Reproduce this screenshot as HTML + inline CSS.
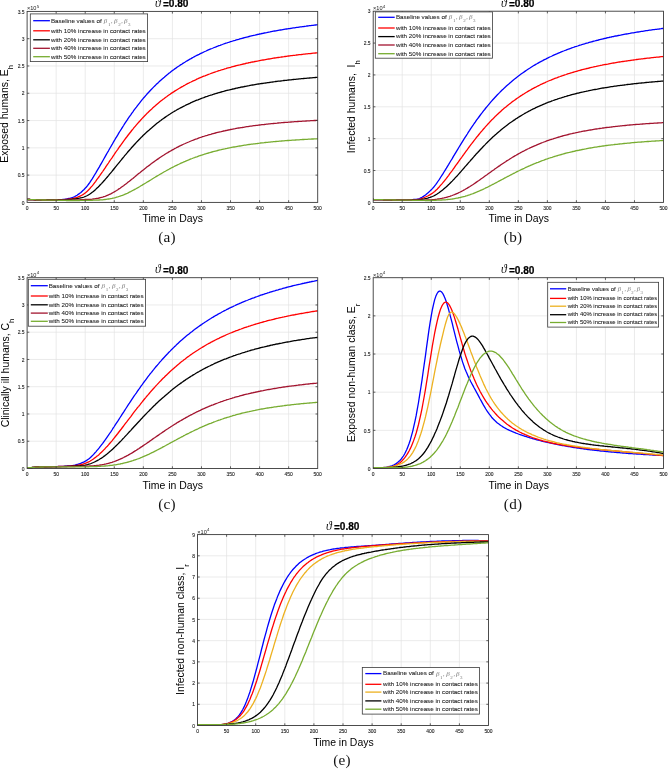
<!DOCTYPE html><html><head><meta charset="utf-8"><style>html,body{margin:0;padding:0;background:#fff;}svg{display:block;font-family:"Liberation Sans",sans-serif;will-change:transform;}</style></head><body>
<svg width="668" height="769" viewBox="0 0 668 769">
<rect width="668" height="769" fill="#fff"/>
<path d="M56.16 11.40V202.40M85.22 11.40V202.40M114.28 11.40V202.40M143.34 11.40V202.40M172.40 11.40V202.40M201.46 11.40V202.40M230.52 11.40V202.40M259.58 11.40V202.40M288.64 11.40V202.40M27.10 175.11H317.70M27.10 147.83H317.70M27.10 120.54H317.70M27.10 93.26H317.70M27.10 65.97H317.70M27.10 38.69H317.70" stroke="#e3e3e3" stroke-width="0.7" fill="none"/>
<path d="M27.1,199.4 28.3,199.5 29.4,199.5 30.6,199.6 31.7,199.7 32.9,199.7 34.1,199.8 35.2,199.8 36.4,199.9 37.6,199.9 38.7,199.9 39.9,199.9 41.0,199.9 42.2,199.9 43.4,199.9 44.5,199.9 45.7,199.9 46.9,199.9 48.0,199.9 49.2,199.9 50.3,199.9 51.5,199.9 52.7,199.9 53.8,199.9 55.0,199.9 56.2,199.9 57.3,199.9 58.5,199.9 59.6,199.8 60.8,199.7 62.0,199.6 63.1,199.4 64.3,199.3 65.5,199.1 66.6,198.9 67.8,198.6 68.9,198.4 70.1,198.2 71.3,197.9 72.4,197.5 73.6,197.1 74.8,196.5 75.9,195.9 77.1,195.2 78.2,194.4 79.4,193.6 80.6,192.7 81.7,191.7 82.9,190.6 84.1,189.5 85.2,188.2 86.4,187.0 87.5,185.6 88.7,184.0 89.9,182.4 91.0,180.6 92.2,178.8 93.4,176.9 94.5,175.0 95.7,173.1 96.8,171.1 98.0,169.1 99.2,167.1 100.3,165.1 101.5,163.1 102.7,161.0 103.8,159.0 105.0,156.9 106.1,154.9 107.3,152.8 108.5,150.8 109.6,148.8 110.8,146.7 112.0,144.7 113.1,142.7 114.3,140.7 115.4,138.7 116.6,136.8 117.8,134.9 118.9,132.9 120.1,131.0 121.3,129.2 122.4,127.3 123.6,125.5 124.7,123.7 125.9,121.9 127.1,120.2 128.2,118.4 129.4,116.7 130.6,115.1 131.7,113.4 132.9,111.8 134.0,110.2 135.2,108.6 136.4,107.1 137.5,105.6 138.7,104.1 139.9,102.6 141.0,101.2 142.2,99.7 143.3,98.3 144.5,97.0 145.7,95.6 146.8,94.3 148.0,93.0 149.2,91.7 150.3,90.5 151.5,89.3 152.6,88.1 153.8,86.9 155.0,85.7 156.1,84.6 157.3,83.5 158.5,82.4 159.6,81.3 160.8,80.2 161.9,79.2 163.1,78.2 164.3,77.2 165.4,76.2 166.6,75.2 167.8,74.3 168.9,73.3 170.1,72.4 171.2,71.5 172.4,70.6 173.6,69.8 174.7,68.9 175.9,68.1 177.0,67.3 178.2,66.5 179.4,65.7 180.5,64.9 181.7,64.2 182.9,63.4 184.0,62.7 185.2,62.0 186.3,61.3 187.5,60.6 188.7,59.9 189.8,59.2 191.0,58.6 192.2,57.9 193.3,57.3 194.5,56.6 195.6,56.0 196.8,55.4 198.0,54.8 199.1,54.3 200.3,53.7 201.5,53.1 202.6,52.6 203.8,52.0 204.9,51.5 206.1,51.0 207.3,50.4 208.4,49.9 209.6,49.4 210.8,48.9 211.9,48.5 213.1,48.0 214.2,47.5 215.4,47.1 216.6,46.6 217.7,46.2 218.9,45.7 220.1,45.3 221.2,44.9 222.4,44.5 223.5,44.0 224.7,43.6 225.9,43.2 227.0,42.9 228.2,42.5 229.4,42.1 230.5,41.7 231.7,41.4 232.8,41.0 234.0,40.6 235.2,40.3 236.3,39.9 237.5,39.6 238.7,39.3 239.8,38.9 241.0,38.6 242.1,38.3 243.3,38.0 244.5,37.7 245.6,37.4 246.8,37.1 248.0,36.8 249.1,36.5 250.3,36.2 251.4,35.9 252.6,35.6 253.8,35.3 254.9,35.1 256.1,34.8 257.3,34.5 258.4,34.3 259.6,34.0 260.7,33.8 261.9,33.5 263.1,33.3 264.2,33.0 265.4,32.8 266.6,32.6 267.7,32.3 268.9,32.1 270.0,31.9 271.2,31.6 272.4,31.4 273.5,31.2 274.7,31.0 275.9,30.8 277.0,30.6 278.2,30.4 279.3,30.2 280.5,30.0 281.7,29.8 282.8,29.6 284.0,29.4 285.2,29.2 286.3,29.0 287.5,28.8 288.6,28.6 289.8,28.5 291.0,28.3 292.1,28.1 293.3,27.9 294.5,27.8 295.6,27.6 296.8,27.4 297.9,27.3 299.1,27.1 300.3,26.9 301.4,26.8 302.6,26.6 303.8,26.5 304.9,26.3 306.1,26.2 307.2,26.0 308.4,25.9 309.6,25.7 310.7,25.6 311.9,25.4 313.1,25.3 314.2,25.1 315.4,25.0 316.5,24.9 317.7,24.7" stroke="#0000ff" stroke-width="1.3" fill="none" stroke-linejoin="round"/>
<path d="M27.1,199.4 28.3,199.5 29.4,199.5 30.6,199.6 31.7,199.7 32.9,199.7 34.1,199.8 35.2,199.8 36.4,199.9 37.6,199.9 38.7,199.9 39.9,199.9 41.0,199.9 42.2,199.9 43.4,199.9 44.5,199.9 45.7,199.9 46.9,199.9 48.0,199.9 49.2,199.9 50.3,199.9 51.5,199.9 52.7,199.9 53.8,199.9 55.0,199.9 56.2,199.9 57.3,199.9 58.5,199.9 59.6,199.9 60.8,199.8 62.0,199.7 63.1,199.6 64.3,199.6 65.5,199.4 66.6,199.3 67.8,199.2 68.9,199.1 70.1,198.9 71.3,198.8 72.4,198.6 73.6,198.3 74.8,198.0 75.9,197.7 77.1,197.3 78.2,196.9 79.4,196.4 80.6,195.9 81.7,195.3 82.9,194.6 84.1,193.8 85.2,192.9 86.4,192.0 87.5,191.0 88.7,189.8 89.9,188.5 91.0,187.2 92.2,185.8 93.4,184.3 94.5,182.8 95.7,181.3 96.8,179.7 98.0,178.1 99.2,176.5 100.3,174.9 101.5,173.2 102.7,171.5 103.8,169.8 105.0,168.1 106.1,166.4 107.3,164.7 108.5,163.0 109.6,161.2 110.8,159.5 112.0,157.8 113.1,156.1 114.3,154.4 115.4,152.7 116.6,151.0 117.8,149.3 118.9,147.6 120.1,146.0 121.3,144.4 122.4,142.8 123.6,141.2 124.7,139.6 125.9,138.0 127.1,136.5 128.2,135.0 129.4,133.5 130.6,132.0 131.7,130.5 132.9,129.1 134.0,127.7 135.2,126.3 136.4,124.9 137.5,123.6 138.7,122.3 139.9,121.0 141.0,119.7 142.2,118.4 143.3,117.2 144.5,116.0 145.7,114.8 146.8,113.6 148.0,112.5 149.2,111.3 150.3,110.2 151.5,109.2 152.6,108.1 153.8,107.0 155.0,106.0 156.1,105.0 157.3,104.0 158.5,103.0 159.6,102.1 160.8,101.1 161.9,100.2 163.1,99.3 164.3,98.4 165.4,97.5 166.6,96.7 167.8,95.8 168.9,95.0 170.1,94.2 171.2,93.4 172.4,92.6 173.6,91.9 174.7,91.1 175.9,90.4 177.0,89.7 178.2,89.0 179.4,88.3 180.5,87.6 181.7,86.9 182.9,86.3 184.0,85.6 185.2,85.0 186.3,84.3 187.5,83.7 188.7,83.1 189.8,82.5 191.0,82.0 192.2,81.4 193.3,80.8 194.5,80.3 195.6,79.8 196.8,79.2 198.0,78.7 199.1,78.2 200.3,77.7 201.5,77.2 202.6,76.7 203.8,76.2 204.9,75.8 206.1,75.3 207.3,74.9 208.4,74.4 209.6,74.0 210.8,73.5 211.9,73.1 213.1,72.7 214.2,72.3 215.4,71.9 216.6,71.5 217.7,71.1 218.9,70.7 220.1,70.4 221.2,70.0 222.4,69.6 223.5,69.3 224.7,68.9 225.9,68.6 227.0,68.2 228.2,67.9 229.4,67.6 230.5,67.3 231.7,66.9 232.8,66.6 234.0,66.3 235.2,66.0 236.3,65.7 237.5,65.4 238.7,65.1 239.8,64.9 241.0,64.6 242.1,64.3 243.3,64.0 244.5,63.8 245.6,63.5 246.8,63.2 248.0,63.0 249.1,62.7 250.3,62.5 251.4,62.2 252.6,62.0 253.8,61.8 254.9,61.5 256.1,61.3 257.3,61.1 258.4,60.9 259.6,60.6 260.7,60.4 261.9,60.2 263.1,60.0 264.2,59.8 265.4,59.6 266.6,59.4 267.7,59.2 268.9,59.0 270.0,58.8 271.2,58.6 272.4,58.4 273.5,58.2 274.7,58.0 275.9,57.9 277.0,57.7 278.2,57.5 279.3,57.3 280.5,57.2 281.7,57.0 282.8,56.8 284.0,56.7 285.2,56.5 286.3,56.4 287.5,56.2 288.6,56.0 289.8,55.9 291.0,55.7 292.1,55.6 293.3,55.4 294.5,55.3 295.6,55.2 296.8,55.0 297.9,54.9 299.1,54.7 300.3,54.6 301.4,54.5 302.6,54.3 303.8,54.2 304.9,54.1 306.1,53.9 307.2,53.8 308.4,53.7 309.6,53.6 310.7,53.5 311.9,53.3 313.1,53.2 314.2,53.1 315.4,53.0 316.5,52.9 317.7,52.8" stroke="#ff0000" stroke-width="1.3" fill="none" stroke-linejoin="round"/>
<path d="M27.1,199.4 28.3,199.5 29.4,199.5 30.6,199.6 31.7,199.6 32.9,199.7 34.1,199.7 35.2,199.8 36.4,199.8 37.6,199.9 38.7,199.9 39.9,199.9 41.0,199.9 42.2,200.0 43.4,200.0 44.5,200.0 45.7,200.0 46.9,200.0 48.0,200.0 49.2,200.0 50.3,200.0 51.5,200.0 52.7,200.0 53.8,200.0 55.0,200.1 56.2,200.1 57.3,200.0 58.5,200.0 59.6,200.0 60.8,200.0 62.0,199.9 63.1,199.9 64.3,199.8 65.5,199.7 66.6,199.7 67.8,199.6 68.9,199.5 70.1,199.4 71.3,199.4 72.4,199.2 73.6,199.1 74.8,199.0 75.9,198.8 77.1,198.6 78.2,198.4 79.4,198.2 80.6,197.9 81.7,197.7 82.9,197.4 84.1,197.0 85.2,196.5 86.4,196.0 87.5,195.5 88.7,194.8 89.9,194.0 91.0,193.2 92.2,192.3 93.4,191.4 94.5,190.4 95.7,189.4 96.8,188.3 98.0,187.2 99.2,186.0 100.3,184.8 101.5,183.6 102.7,182.3 103.8,181.0 105.0,179.7 106.1,178.4 107.3,177.0 108.5,175.6 109.6,174.2 110.8,172.8 112.0,171.4 113.1,170.0 114.3,168.5 115.4,167.1 116.6,165.6 117.8,164.2 118.9,162.8 120.1,161.3 121.3,159.9 122.4,158.5 123.6,157.1 124.7,155.7 125.9,154.3 127.1,152.9 128.2,151.5 129.4,150.2 130.6,148.9 131.7,147.5 132.9,146.2 134.0,145.0 135.2,143.7 136.4,142.4 137.5,141.2 138.7,140.0 139.9,138.8 141.0,137.6 142.2,136.5 143.3,135.3 144.5,134.2 145.7,133.1 146.8,132.0 148.0,130.9 149.2,129.9 150.3,128.9 151.5,127.9 152.6,126.9 153.8,125.9 155.0,124.9 156.1,124.0 157.3,123.1 158.5,122.2 159.6,121.3 160.8,120.4 161.9,119.5 163.1,118.7 164.3,117.9 165.4,117.1 166.6,116.3 167.8,115.5 168.9,114.7 170.1,114.0 171.2,113.3 172.4,112.5 173.6,111.8 174.7,111.1 175.9,110.5 177.0,109.8 178.2,109.1 179.4,108.5 180.5,107.9 181.7,107.3 182.9,106.7 184.0,106.1 185.2,105.5 186.3,104.9 187.5,104.4 188.7,103.8 189.8,103.3 191.0,102.7 192.2,102.2 193.3,101.7 194.5,101.2 195.6,100.7 196.8,100.2 198.0,99.8 199.1,99.3 200.3,98.9 201.5,98.4 202.6,98.0 203.8,97.6 204.9,97.1 206.1,96.7 207.3,96.3 208.4,95.9 209.6,95.5 210.8,95.1 211.9,94.8 213.1,94.4 214.2,94.0 215.4,93.7 216.6,93.3 217.7,93.0 218.9,92.6 220.1,92.3 221.2,92.0 222.4,91.7 223.5,91.4 224.7,91.0 225.9,90.7 227.0,90.4 228.2,90.1 229.4,89.9 230.5,89.6 231.7,89.3 232.8,89.0 234.0,88.8 235.2,88.5 236.3,88.2 237.5,88.0 238.7,87.7 239.8,87.5 241.0,87.2 242.1,87.0 243.3,86.8 244.5,86.5 245.6,86.3 246.8,86.1 248.0,85.9 249.1,85.7 250.3,85.4 251.4,85.2 252.6,85.0 253.8,84.8 254.9,84.6 256.1,84.4 257.3,84.2 258.4,84.0 259.6,83.9 260.7,83.7 261.9,83.5 263.1,83.3 264.2,83.1 265.4,83.0 266.6,82.8 267.7,82.6 268.9,82.5 270.0,82.3 271.2,82.1 272.4,82.0 273.5,81.8 274.7,81.7 275.9,81.5 277.0,81.4 278.2,81.2 279.3,81.1 280.5,81.0 281.7,80.8 282.8,80.7 284.0,80.5 285.2,80.4 286.3,80.3 287.5,80.1 288.6,80.0 289.8,79.9 291.0,79.8 292.1,79.6 293.3,79.5 294.5,79.4 295.6,79.3 296.8,79.2 297.9,79.1 299.1,78.9 300.3,78.8 301.4,78.7 302.6,78.6 303.8,78.5 304.9,78.4 306.1,78.3 307.2,78.2 308.4,78.1 309.6,78.0 310.7,77.9 311.9,77.8 313.1,77.7 314.2,77.6 315.4,77.5 316.5,77.4 317.7,77.3" stroke="#000000" stroke-width="1.3" fill="none" stroke-linejoin="round"/>
<path d="M27.1,199.4 28.3,199.5 29.4,199.5 30.6,199.6 31.7,199.6 32.9,199.7 34.1,199.7 35.2,199.7 36.4,199.8 37.6,199.8 38.7,199.9 39.9,199.9 41.0,199.9 42.2,200.0 43.4,200.0 44.5,200.0 45.7,200.0 46.9,200.1 48.0,200.1 49.2,200.1 50.3,200.2 51.5,200.2 52.7,200.2 53.8,200.2 55.0,200.2 56.2,200.2 57.3,200.2 58.5,200.2 59.6,200.2 60.8,200.2 62.0,200.2 63.1,200.2 64.3,200.2 65.5,200.2 66.6,200.2 67.8,200.2 68.9,200.2 70.1,200.2 71.3,200.2 72.4,200.2 73.6,200.1 74.8,200.1 75.9,200.0 77.1,200.0 78.2,199.9 79.4,199.8 80.6,199.7 81.7,199.7 82.9,199.6 84.1,199.6 85.2,199.5 86.4,199.5 87.5,199.5 88.7,199.4 89.9,199.4 91.0,199.3 92.2,199.2 93.4,199.0 94.5,198.9 95.7,198.7 96.8,198.5 98.0,198.3 99.2,198.0 100.3,197.7 101.5,197.4 102.7,197.1 103.8,196.7 105.0,196.3 106.1,195.9 107.3,195.4 108.5,194.9 109.6,194.3 110.8,193.8 112.0,193.2 113.1,192.5 114.3,191.9 115.4,191.2 116.6,190.5 117.8,189.7 118.9,188.9 120.1,188.2 121.3,187.3 122.4,186.5 123.6,185.7 124.7,184.8 125.9,183.9 127.1,183.0 128.2,182.1 129.4,181.2 130.6,180.2 131.7,179.3 132.9,178.4 134.0,177.4 135.2,176.5 136.4,175.5 137.5,174.6 138.7,173.6 139.9,172.7 141.0,171.8 142.2,170.8 143.3,169.9 144.5,169.0 145.7,168.1 146.8,167.1 148.0,166.2 149.2,165.4 150.3,164.5 151.5,163.6 152.6,162.7 153.8,161.9 155.0,161.0 156.1,160.2 157.3,159.4 158.5,158.6 159.6,157.8 160.8,157.0 161.9,156.3 163.1,155.5 164.3,154.8 165.4,154.0 166.6,153.3 167.8,152.6 168.9,151.9 170.1,151.2 171.2,150.6 172.4,149.9 173.6,149.3 174.7,148.6 175.9,148.0 177.0,147.4 178.2,146.8 179.4,146.2 180.5,145.7 181.7,145.1 182.9,144.5 184.0,144.0 185.2,143.5 186.3,143.0 187.5,142.5 188.7,142.0 189.8,141.5 191.0,141.0 192.2,140.5 193.3,140.1 194.5,139.6 195.6,139.2 196.8,138.8 198.0,138.3 199.1,137.9 200.3,137.5 201.5,137.1 202.6,136.7 203.8,136.4 204.9,136.0 206.1,135.6 207.3,135.3 208.4,134.9 209.6,134.6 210.8,134.3 211.9,133.9 213.1,133.6 214.2,133.3 215.4,133.0 216.6,132.7 217.7,132.4 218.9,132.1 220.1,131.8 221.2,131.6 222.4,131.3 223.5,131.0 224.7,130.8 225.9,130.5 227.0,130.3 228.2,130.0 229.4,129.8 230.5,129.5 231.7,129.3 232.8,129.1 234.0,128.9 235.2,128.7 236.3,128.4 237.5,128.2 238.7,128.0 239.8,127.8 241.0,127.6 242.1,127.5 243.3,127.3 244.5,127.1 245.6,126.9 246.8,126.7 248.0,126.6 249.1,126.4 250.3,126.2 251.4,126.1 252.6,125.9 253.8,125.7 254.9,125.6 256.1,125.4 257.3,125.3 258.4,125.1 259.6,125.0 260.7,124.9 261.9,124.7 263.1,124.6 264.2,124.5 265.4,124.3 266.6,124.2 267.7,124.1 268.9,123.9 270.0,123.8 271.2,123.7 272.4,123.6 273.5,123.5 274.7,123.4 275.9,123.3 277.0,123.2 278.2,123.0 279.3,122.9 280.5,122.8 281.7,122.7 282.8,122.6 284.0,122.5 285.2,122.4 286.3,122.4 287.5,122.3 288.6,122.2 289.8,122.1 291.0,122.0 292.1,121.9 293.3,121.8 294.5,121.7 295.6,121.7 296.8,121.6 297.9,121.5 299.1,121.4 300.3,121.4 301.4,121.3 302.6,121.2 303.8,121.1 304.9,121.1 306.1,121.0 307.2,120.9 308.4,120.9 309.6,120.8 310.7,120.7 311.9,120.7 313.1,120.6 314.2,120.5 315.4,120.5 316.5,120.4 317.7,120.4" stroke="#a2142f" stroke-width="1.3" fill="none" stroke-linejoin="round"/>
<path d="M27.1,199.4 28.3,199.5 29.4,199.5 30.6,199.6 31.7,199.6 32.9,199.7 34.1,199.7 35.2,199.7 36.4,199.8 37.6,199.8 38.7,199.9 39.9,199.9 41.0,199.9 42.2,200.0 43.4,200.0 44.5,200.0 45.7,200.0 46.9,200.1 48.0,200.1 49.2,200.1 50.3,200.1 51.5,200.1 52.7,200.2 53.8,200.2 55.0,200.2 56.2,200.2 57.3,200.2 58.5,200.3 59.6,200.3 60.8,200.3 62.0,200.4 63.1,200.4 64.3,200.4 65.5,200.4 66.6,200.5 67.8,200.5 68.9,200.5 70.1,200.5 71.3,200.5 72.4,200.5 73.6,200.5 74.8,200.5 75.9,200.5 77.1,200.5 78.2,200.5 79.4,200.5 80.6,200.4 81.7,200.4 82.9,200.4 84.1,200.4 85.2,200.4 86.4,200.4 87.5,200.3 88.7,200.3 89.9,200.3 91.0,200.3 92.2,200.3 93.4,200.2 94.5,200.2 95.7,200.2 96.8,200.1 98.0,200.1 99.2,200.0 100.3,199.9 101.5,199.9 102.7,199.8 103.8,199.6 105.0,199.5 106.1,199.4 107.3,199.2 108.5,199.0 109.6,198.8 110.8,198.6 112.0,198.4 113.1,198.1 114.3,197.9 115.4,197.6 116.6,197.2 117.8,196.9 118.9,196.5 120.1,196.1 121.3,195.7 122.4,195.3 123.6,194.8 124.7,194.3 125.9,193.8 127.1,193.3 128.2,192.8 129.4,192.2 130.6,191.6 131.7,191.0 132.9,190.4 134.0,189.8 135.2,189.2 136.4,188.5 137.5,187.9 138.7,187.2 139.9,186.5 141.0,185.8 142.2,185.1 143.3,184.4 144.5,183.7 145.7,183.0 146.8,182.3 148.0,181.6 149.2,180.9 150.3,180.2 151.5,179.5 152.6,178.7 153.8,178.0 155.0,177.3 156.1,176.6 157.3,175.9 158.5,175.2 159.6,174.5 160.8,173.9 161.9,173.2 163.1,172.5 164.3,171.8 165.4,171.2 166.6,170.5 167.8,169.9 168.9,169.3 170.1,168.6 171.2,168.0 172.4,167.4 173.6,166.8 174.7,166.2 175.9,165.7 177.0,165.1 178.2,164.5 179.4,164.0 180.5,163.4 181.7,162.9 182.9,162.4 184.0,161.8 185.2,161.3 186.3,160.8 187.5,160.4 188.7,159.9 189.8,159.4 191.0,158.9 192.2,158.5 193.3,158.0 194.5,157.6 195.6,157.2 196.8,156.8 198.0,156.3 199.1,155.9 200.3,155.5 201.5,155.2 202.6,154.8 203.8,154.4 204.9,154.0 206.1,153.7 207.3,153.3 208.4,153.0 209.6,152.7 210.8,152.3 211.9,152.0 213.1,151.7 214.2,151.4 215.4,151.1 216.6,150.8 217.7,150.5 218.9,150.2 220.1,149.9 221.2,149.7 222.4,149.4 223.5,149.1 224.7,148.9 225.9,148.6 227.0,148.4 228.2,148.1 229.4,147.9 230.5,147.7 231.7,147.4 232.8,147.2 234.0,147.0 235.2,146.8 236.3,146.6 237.5,146.4 238.7,146.2 239.8,146.0 241.0,145.8 242.1,145.6 243.3,145.4 244.5,145.2 245.6,145.1 246.8,144.9 248.0,144.7 249.1,144.5 250.3,144.4 251.4,144.2 252.6,144.1 253.8,143.9 254.9,143.8 256.1,143.6 257.3,143.5 258.4,143.3 259.6,143.2 260.7,143.0 261.9,142.9 263.1,142.8 264.2,142.7 265.4,142.5 266.6,142.4 267.7,142.3 268.9,142.2 270.0,142.1 271.2,141.9 272.4,141.8 273.5,141.7 274.7,141.6 275.9,141.5 277.0,141.4 278.2,141.3 279.3,141.2 280.5,141.1 281.7,141.0 282.8,140.9 284.0,140.8 285.2,140.7 286.3,140.6 287.5,140.5 288.6,140.5 289.8,140.4 291.0,140.3 292.1,140.2 293.3,140.1 294.5,140.1 295.6,140.0 296.8,139.9 297.9,139.8 299.1,139.8 300.3,139.7 301.4,139.6 302.6,139.5 303.8,139.5 304.9,139.4 306.1,139.3 307.2,139.3 308.4,139.2 309.6,139.1 310.7,139.1 311.9,139.0 313.1,139.0 314.2,138.9 315.4,138.9 316.5,138.8 317.7,138.7" stroke="#77ac30" stroke-width="1.3" fill="none" stroke-linejoin="round"/>
<path d="M56.16 202.40v-2.20M56.16 11.40v2.20M85.22 202.40v-2.20M85.22 11.40v2.20M114.28 202.40v-2.20M114.28 11.40v2.20M143.34 202.40v-2.20M143.34 11.40v2.20M172.40 202.40v-2.20M172.40 11.40v2.20M201.46 202.40v-2.20M201.46 11.40v2.20M230.52 202.40v-2.20M230.52 11.40v2.20M259.58 202.40v-2.20M259.58 11.40v2.20M288.64 202.40v-2.20M288.64 11.40v2.20M27.10 175.11h2.20M317.70 175.11h-2.20M27.10 147.83h2.20M317.70 147.83h-2.20M27.10 120.54h2.20M317.70 120.54h-2.20M27.10 93.26h2.20M317.70 93.26h-2.20M27.10 65.97h2.20M317.70 65.97h-2.20M27.10 38.69h2.20M317.70 38.69h-2.20" stroke="#3a3a3a" stroke-width="0.8" fill="none"/>
<rect x="27.10" y="11.40" width="290.60" height="191.00" stroke="#3a3a3a" stroke-width="0.9" fill="none"/>
<g font-size="4.95" fill="#1a1a1a" stroke="#1a1a1a" stroke-width="0.1"><text x="27.10" y="209.50" text-anchor="middle">0</text><text x="56.16" y="209.50" text-anchor="middle">50</text><text x="85.22" y="209.50" text-anchor="middle">100</text><text x="114.28" y="209.50" text-anchor="middle">150</text><text x="143.34" y="209.50" text-anchor="middle">200</text><text x="172.40" y="209.50" text-anchor="middle">250</text><text x="201.46" y="209.50" text-anchor="middle">300</text><text x="230.52" y="209.50" text-anchor="middle">350</text><text x="259.58" y="209.50" text-anchor="middle">400</text><text x="288.64" y="209.50" text-anchor="middle">450</text><text x="317.70" y="209.50" text-anchor="middle">500</text><text x="24.50" y="204.60" text-anchor="end">0</text><text x="24.50" y="177.31" text-anchor="end">0.5</text><text x="24.50" y="150.03" text-anchor="end">1</text><text x="24.50" y="122.74" text-anchor="end">1.5</text><text x="24.50" y="95.46" text-anchor="end">2</text><text x="24.50" y="68.17" text-anchor="end">2.5</text><text x="24.50" y="40.89" text-anchor="end">3</text><text x="24.50" y="13.60" text-anchor="end">3.5</text></g>
<text x="26.90" y="10.30" font-size="5.60" fill="#1a1a1a">×10<tspan dx="0.3" dy="-2.2" font-size="4.4">5</tspan></text>
<rect x="30.30" y="13.90" width="117.30" height="47.70" fill="#fff" stroke="#3a3a3a" stroke-width="0.8"/>
<path d="M33.20 20.70H49.90" stroke="#0000ff" stroke-width="1.3"/>
<text x="50.90" y="22.57" font-size="6.25" fill="#1a1a1a" stroke="#1a1a1a" stroke-width="0.07">Baseline values of </text>
<text x="103.80" y="22.88" font-family="Liberation Serif" font-style="italic" font-size="7.00" fill="#787878">β</text>
<text x="107.90" y="25.68" font-family="Liberation Serif" font-size="5.00" fill="#787878">1</text>
<text x="111.00" y="22.88" font-family="Liberation Serif" font-size="6.00" fill="#787878">,</text>
<text x="114.10" y="22.88" font-family="Liberation Serif" font-style="italic" font-size="7.00" fill="#787878">β</text>
<text x="118.20" y="25.68" font-family="Liberation Serif" font-size="5.00" fill="#787878">2</text>
<text x="121.30" y="22.88" font-family="Liberation Serif" font-size="6.00" fill="#787878">,</text>
<text x="123.90" y="22.88" font-family="Liberation Serif" font-style="italic" font-size="7.00" fill="#787878">β</text>
<text x="128.00" y="25.68" font-family="Liberation Serif" font-size="5.00" fill="#787878">3</text>
<path d="M33.20 30.80H49.90" stroke="#ff0000" stroke-width="1.3"/>
<text x="50.90" y="32.67" font-size="6.25" fill="#1a1a1a" stroke="#1a1a1a" stroke-width="0.07">with 10% increase in contact rates</text>
<path d="M33.20 39.80H49.90" stroke="#000000" stroke-width="1.3"/>
<text x="50.90" y="41.67" font-size="6.25" fill="#1a1a1a" stroke="#1a1a1a" stroke-width="0.07">with 20% increase in contact rates</text>
<path d="M33.20 48.30H49.90" stroke="#a2142f" stroke-width="1.3"/>
<text x="50.90" y="50.17" font-size="6.25" fill="#1a1a1a" stroke="#1a1a1a" stroke-width="0.07">with 40% increase in contact rates</text>
<path d="M33.20 56.70H49.90" stroke="#77ac30" stroke-width="1.3"/>
<text x="50.90" y="58.58" font-size="6.25" fill="#1a1a1a" stroke="#1a1a1a" stroke-width="0.07">with 50% increase in contact rates</text>
<text x="162.90" y="7.40" font-size="10.1" font-weight="bold" fill="#000" stroke="#000" stroke-width="0.22"><tspan dy="0.6">=</tspan><tspan dy="-0.6">0.80</tspan></text>
<text x="155.10" y="7.20" font-family="Liberation Serif" font-style="italic" font-size="11.8" fill="#111">ϑ</text>
<text x="172.80" y="222.30" text-anchor="middle" font-size="10.45" fill="#000">Time in Days</text>
<text transform="translate(7.90 113.90) rotate(-90)" text-anchor="middle" font-size="10.45" fill="#000">Exposed humans, E<tspan font-size="7.6" dy="4.8">h</tspan></text>
<text x="167.00" y="242.10" text-anchor="middle" font-family="Liberation Serif" font-size="15.2" letter-spacing="0.25" fill="#111">(a)</text>
<path d="M402.23 11.20V202.40M431.26 11.20V202.40M460.29 11.20V202.40M489.32 11.20V202.40M518.35 11.20V202.40M547.38 11.20V202.40M576.41 11.20V202.40M605.44 11.20V202.40M634.47 11.20V202.40M373.20 170.53H663.50M373.20 138.67H663.50M373.20 106.80H663.50M373.20 74.93H663.50M373.20 43.07H663.50" stroke="#e3e3e3" stroke-width="0.7" fill="none"/>
<path d="M373.2,199.5 374.4,199.6 375.5,199.6 376.7,199.6 377.8,199.6 379.0,199.7 380.2,199.7 381.3,199.7 382.5,199.7 383.7,199.8 384.8,199.8 386.0,199.8 387.1,199.8 388.3,199.9 389.5,199.9 390.6,199.9 391.8,200.0 392.9,200.0 394.1,200.0 395.3,200.1 396.4,200.1 397.6,200.1 398.7,200.1 399.9,200.2 401.1,200.2 402.2,200.2 403.4,200.2 404.6,200.1 405.7,200.1 406.9,200.1 408.0,200.0 409.2,199.9 410.4,199.8 411.5,199.8 412.7,199.7 413.8,199.5 415.0,199.4 416.2,199.3 417.3,199.1 418.5,198.9 419.6,198.5 420.8,197.9 422.0,197.3 423.1,196.6 424.3,195.8 425.5,195.0 426.6,194.1 427.8,193.1 428.9,192.1 430.1,190.9 431.3,189.7 432.4,188.6 433.6,187.3 434.7,185.9 435.9,184.4 437.1,182.7 438.2,181.0 439.4,179.3 440.5,177.5 441.7,175.7 442.9,173.9 444.0,172.0 445.2,170.1 446.4,168.2 447.5,166.3 448.7,164.4 449.8,162.5 451.0,160.5 452.2,158.6 453.3,156.6 454.5,154.7 455.6,152.8 456.8,150.8 458.0,148.9 459.1,147.0 460.3,145.1 461.5,143.2 462.6,141.3 463.8,139.4 464.9,137.6 466.1,135.8 467.3,134.0 468.4,132.2 469.6,130.4 470.7,128.6 471.9,126.9 473.1,125.2 474.2,123.5 475.4,121.9 476.5,120.2 477.7,118.6 478.9,117.0 480.0,115.5 481.2,113.9 482.4,112.4 483.5,110.9 484.7,109.5 485.8,108.0 487.0,106.6 488.2,105.2 489.3,103.8 490.5,102.4 491.6,101.1 492.8,99.8 494.0,98.5 495.1,97.3 496.3,96.0 497.4,94.8 498.6,93.6 499.8,92.4 500.9,91.2 502.1,90.1 503.3,89.0 504.4,87.9 505.6,86.8 506.7,85.7 507.9,84.7 509.1,83.7 510.2,82.7 511.4,81.7 512.5,80.7 513.7,79.7 514.9,78.8 516.0,77.9 517.2,77.0 518.4,76.1 519.5,75.2 520.7,74.3 521.8,73.5 523.0,72.7 524.2,71.9 525.3,71.1 526.5,70.3 527.6,69.5 528.8,68.7 530.0,68.0 531.1,67.3 532.3,66.5 533.4,65.8 534.6,65.1 535.8,64.4 536.9,63.8 538.1,63.1 539.3,62.4 540.4,61.8 541.6,61.2 542.7,60.6 543.9,59.9 545.1,59.3 546.2,58.8 547.4,58.2 548.5,57.6 549.7,57.0 550.9,56.5 552.0,56.0 553.2,55.4 554.3,54.9 555.5,54.4 556.7,53.9 557.8,53.4 559.0,52.9 560.2,52.4 561.3,51.9 562.5,51.4 563.6,51.0 564.8,50.5 566.0,50.1 567.1,49.6 568.3,49.2 569.4,48.8 570.6,48.4 571.8,47.9 572.9,47.5 574.1,47.1 575.2,46.7 576.4,46.4 577.6,46.0 578.7,45.6 579.9,45.2 581.1,44.9 582.2,44.5 583.4,44.1 584.5,43.8 585.7,43.4 586.9,43.1 588.0,42.8 589.2,42.4 590.3,42.1 591.5,41.8 592.7,41.5 593.8,41.2 595.0,40.9 596.2,40.5 597.3,40.3 598.5,40.0 599.6,39.7 600.8,39.4 602.0,39.1 603.1,38.8 604.3,38.5 605.4,38.3 606.6,38.0 607.8,37.7 608.9,37.5 610.1,37.2 611.2,37.0 612.4,36.7 613.6,36.5 614.7,36.2 615.9,36.0 617.1,35.8 618.2,35.5 619.4,35.3 620.5,35.1 621.7,34.8 622.9,34.6 624.0,34.4 625.2,34.2 626.3,34.0 627.5,33.8 628.7,33.6 629.8,33.4 631.0,33.1 632.1,32.9 633.3,32.8 634.5,32.6 635.6,32.4 636.8,32.2 638.0,32.0 639.1,31.8 640.3,31.6 641.4,31.4 642.6,31.3 643.8,31.1 644.9,30.9 646.1,30.7 647.2,30.6 648.4,30.4 649.6,30.2 650.7,30.1 651.9,29.9 653.0,29.7 654.2,29.6 655.4,29.4 656.5,29.3 657.7,29.1 658.9,29.0 660.0,28.8 661.2,28.7 662.3,28.5 663.5,28.4" stroke="#0000ff" stroke-width="1.3" fill="none" stroke-linejoin="round"/>
<path d="M373.2,199.5 374.4,199.6 375.5,199.6 376.7,199.6 377.8,199.6 379.0,199.7 380.2,199.7 381.3,199.7 382.5,199.7 383.7,199.8 384.8,199.8 386.0,199.8 387.1,199.8 388.3,199.9 389.5,199.9 390.6,199.9 391.8,200.0 392.9,200.0 394.1,200.0 395.3,200.1 396.4,200.1 397.6,200.1 398.7,200.1 399.9,200.2 401.1,200.2 402.2,200.2 403.4,200.2 404.6,200.2 405.7,200.1 406.9,200.1 408.0,200.1 409.2,200.0 410.4,200.0 411.5,199.9 412.7,199.8 413.8,199.7 415.0,199.7 416.2,199.6 417.3,199.5 418.5,199.3 419.6,199.1 420.8,198.8 422.0,198.4 423.1,198.0 424.3,197.5 425.5,197.0 426.6,196.5 427.8,196.0 428.9,195.3 430.1,194.7 431.3,193.9 432.4,193.2 433.6,192.3 434.7,191.4 435.9,190.3 437.1,189.2 438.2,188.0 439.4,186.7 440.5,185.4 441.7,184.1 442.9,182.7 444.0,181.3 445.2,179.8 446.4,178.3 447.5,176.8 448.7,175.3 449.8,173.7 451.0,172.2 452.2,170.6 453.3,169.0 454.5,167.4 455.6,165.7 456.8,164.1 458.0,162.5 459.1,160.9 460.3,159.2 461.5,157.6 462.6,156.0 463.8,154.4 464.9,152.8 466.1,151.2 467.3,149.6 468.4,148.0 469.6,146.4 470.7,144.9 471.9,143.4 473.1,141.8 474.2,140.3 475.4,138.9 476.5,137.4 477.7,136.0 478.9,134.5 480.0,133.1 481.2,131.7 482.4,130.4 483.5,129.0 484.7,127.7 485.8,126.4 487.0,125.1 488.2,123.8 489.3,122.6 490.5,121.3 491.6,120.1 492.8,119.0 494.0,117.8 495.1,116.6 496.3,115.5 497.4,114.4 498.6,113.3 499.8,112.2 500.9,111.2 502.1,110.1 503.3,109.1 504.4,108.1 505.6,107.2 506.7,106.2 507.9,105.2 509.1,104.3 510.2,103.4 511.4,102.5 512.5,101.6 513.7,100.8 514.9,99.9 516.0,99.1 517.2,98.3 518.4,97.5 519.5,96.7 520.7,95.9 521.8,95.2 523.0,94.4 524.2,93.7 525.3,93.0 526.5,92.3 527.6,91.6 528.8,90.9 530.0,90.2 531.1,89.6 532.3,88.9 533.4,88.3 534.6,87.7 535.8,87.1 536.9,86.5 538.1,85.9 539.3,85.3 540.4,84.7 541.6,84.2 542.7,83.6 543.9,83.1 545.1,82.6 546.2,82.0 547.4,81.5 548.5,81.0 549.7,80.5 550.9,80.1 552.0,79.6 553.2,79.1 554.3,78.7 555.5,78.2 556.7,77.8 557.8,77.3 559.0,76.9 560.2,76.5 561.3,76.1 562.5,75.7 563.6,75.3 564.8,74.9 566.0,74.5 567.1,74.1 568.3,73.7 569.4,73.4 570.6,73.0 571.8,72.7 572.9,72.3 574.1,72.0 575.2,71.6 576.4,71.3 577.6,71.0 578.7,70.6 579.9,70.3 581.1,70.0 582.2,69.7 583.4,69.4 584.5,69.1 585.7,68.8 586.9,68.5 588.0,68.3 589.2,68.0 590.3,67.7 591.5,67.4 592.7,67.2 593.8,66.9 595.0,66.6 596.2,66.4 597.3,66.1 598.5,65.9 599.6,65.7 600.8,65.4 602.0,65.2 603.1,64.9 604.3,64.7 605.4,64.5 606.6,64.3 607.8,64.1 608.9,63.8 610.1,63.6 611.2,63.4 612.4,63.2 613.6,63.0 614.7,62.8 615.9,62.6 617.1,62.4 618.2,62.2 619.4,62.0 620.5,61.9 621.7,61.7 622.9,61.5 624.0,61.3 625.2,61.1 626.3,61.0 627.5,60.8 628.7,60.6 629.8,60.5 631.0,60.3 632.1,60.1 633.3,60.0 634.5,59.8 635.6,59.7 636.8,59.5 638.0,59.4 639.1,59.2 640.3,59.1 641.4,58.9 642.6,58.8 643.8,58.6 644.9,58.5 646.1,58.4 647.2,58.2 648.4,58.1 649.6,58.0 650.7,57.8 651.9,57.7 653.0,57.6 654.2,57.4 655.4,57.3 656.5,57.2 657.7,57.1 658.9,57.0 660.0,56.8 661.2,56.7 662.3,56.6 663.5,56.5" stroke="#ff0000" stroke-width="1.3" fill="none" stroke-linejoin="round"/>
<path d="M373.2,199.5 374.4,199.6 375.5,199.6 376.7,199.6 377.8,199.6 379.0,199.7 380.2,199.7 381.3,199.7 382.5,199.7 383.7,199.8 384.8,199.8 386.0,199.8 387.1,199.8 388.3,199.9 389.5,199.9 390.6,199.9 391.8,200.0 392.9,200.0 394.1,200.0 395.3,200.1 396.4,200.1 397.6,200.1 398.7,200.1 399.9,200.2 401.1,200.2 402.2,200.2 403.4,200.2 404.6,200.2 405.7,200.1 406.9,200.1 408.0,200.1 409.2,200.1 410.4,200.1 411.5,200.0 412.7,200.0 413.8,200.0 415.0,199.9 416.2,199.9 417.3,199.8 418.5,199.7 419.6,199.6 420.8,199.5 422.0,199.3 423.1,199.1 424.3,198.9 425.5,198.6 426.6,198.4 427.8,198.1 428.9,197.7 430.1,197.4 431.3,196.9 432.4,196.5 433.6,196.0 434.7,195.4 435.9,194.7 437.1,194.0 438.2,193.3 439.4,192.5 440.5,191.6 441.7,190.7 442.9,189.8 444.0,188.8 445.2,187.8 446.4,186.8 447.5,185.7 448.7,184.6 449.8,183.5 451.0,182.3 452.2,181.1 453.3,179.9 454.5,178.7 455.6,177.4 456.8,176.2 458.0,174.9 459.1,173.6 460.3,172.3 461.5,170.9 462.6,169.6 463.8,168.3 464.9,166.9 466.1,165.6 467.3,164.3 468.4,162.9 469.6,161.6 470.7,160.3 471.9,159.0 473.1,157.6 474.2,156.3 475.4,155.0 476.5,153.7 477.7,152.5 478.9,151.2 480.0,150.0 481.2,148.7 482.4,147.5 483.5,146.3 484.7,145.1 485.8,143.9 487.0,142.7 488.2,141.6 489.3,140.4 490.5,139.3 491.6,138.2 492.8,137.1 494.0,136.1 495.1,135.0 496.3,134.0 497.4,133.0 498.6,131.9 499.8,131.0 500.9,130.0 502.1,129.0 503.3,128.1 504.4,127.2 505.6,126.3 506.7,125.4 507.9,124.5 509.1,123.6 510.2,122.8 511.4,122.0 512.5,121.2 513.7,120.4 514.9,119.6 516.0,118.8 517.2,118.1 518.4,117.3 519.5,116.6 520.7,115.9 521.8,115.2 523.0,114.5 524.2,113.8 525.3,113.1 526.5,112.5 527.6,111.9 528.8,111.2 530.0,110.6 531.1,110.0 532.3,109.4 533.4,108.8 534.6,108.3 535.8,107.7 536.9,107.2 538.1,106.6 539.3,106.1 540.4,105.6 541.6,105.1 542.7,104.6 543.9,104.1 545.1,103.6 546.2,103.1 547.4,102.7 548.5,102.2 549.7,101.8 550.9,101.4 552.0,100.9 553.2,100.5 554.3,100.1 555.5,99.7 556.7,99.3 557.8,98.9 559.0,98.5 560.2,98.1 561.3,97.8 562.5,97.4 563.6,97.1 564.8,96.7 566.0,96.4 567.1,96.0 568.3,95.7 569.4,95.4 570.6,95.0 571.8,94.7 572.9,94.4 574.1,94.1 575.2,93.8 576.4,93.5 577.6,93.2 578.7,93.0 579.9,92.7 581.1,92.4 582.2,92.1 583.4,91.9 584.5,91.6 585.7,91.4 586.9,91.1 588.0,90.9 589.2,90.6 590.3,90.4 591.5,90.2 592.7,89.9 593.8,89.7 595.0,89.5 596.2,89.3 597.3,89.1 598.5,88.8 599.6,88.6 600.8,88.4 602.0,88.2 603.1,88.0 604.3,87.8 605.4,87.6 606.6,87.5 607.8,87.3 608.9,87.1 610.1,86.9 611.2,86.7 612.4,86.6 613.6,86.4 614.7,86.2 615.9,86.1 617.1,85.9 618.2,85.7 619.4,85.6 620.5,85.4 621.7,85.3 622.9,85.1 624.0,85.0 625.2,84.8 626.3,84.7 627.5,84.5 628.7,84.4 629.8,84.3 631.0,84.1 632.1,84.0 633.3,83.9 634.5,83.7 635.6,83.6 636.8,83.5 638.0,83.4 639.1,83.2 640.3,83.1 641.4,83.0 642.6,82.9 643.8,82.8 644.9,82.6 646.1,82.5 647.2,82.4 648.4,82.3 649.6,82.2 650.7,82.1 651.9,82.0 653.0,81.9 654.2,81.8 655.4,81.7 656.5,81.6 657.7,81.5 658.9,81.4 660.0,81.3 661.2,81.2 662.3,81.1 663.5,81.0" stroke="#000000" stroke-width="1.3" fill="none" stroke-linejoin="round"/>
<path d="M373.2,199.5 374.4,199.6 375.5,199.6 376.7,199.6 377.8,199.6 379.0,199.7 380.2,199.7 381.3,199.7 382.5,199.7 383.7,199.8 384.8,199.8 386.0,199.8 387.1,199.8 388.3,199.9 389.5,199.9 390.6,199.9 391.8,200.0 392.9,200.0 394.1,200.0 395.3,200.1 396.4,200.1 397.6,200.1 398.7,200.1 399.9,200.2 401.1,200.2 402.2,200.2 403.4,200.2 404.6,200.2 405.7,200.2 406.9,200.2 408.0,200.2 409.2,200.2 410.4,200.2 411.5,200.2 412.7,200.2 413.8,200.2 415.0,200.2 416.2,200.2 417.3,200.2 418.5,200.2 419.6,200.2 420.8,200.1 422.0,200.1 423.1,200.1 424.3,200.1 425.5,200.1 426.6,200.0 427.8,200.0 428.9,199.9 430.1,199.9 431.3,199.8 432.4,199.7 433.6,199.6 434.7,199.5 435.9,199.3 437.1,199.2 438.2,199.0 439.4,198.8 440.5,198.6 441.7,198.4 442.9,198.1 444.0,197.9 445.2,197.6 446.4,197.3 447.5,197.0 448.7,196.6 449.8,196.3 451.0,195.9 452.2,195.5 453.3,195.0 454.5,194.6 455.6,194.1 456.8,193.6 458.0,193.1 459.1,192.5 460.3,192.0 461.5,191.4 462.6,190.8 463.8,190.1 464.9,189.5 466.1,188.8 467.3,188.1 468.4,187.4 469.6,186.7 470.7,186.0 471.9,185.2 473.1,184.5 474.2,183.7 475.4,182.9 476.5,182.1 477.7,181.3 478.9,180.5 480.0,179.7 481.2,178.8 482.4,178.0 483.5,177.2 484.7,176.3 485.8,175.5 487.0,174.7 488.2,173.8 489.3,173.0 490.5,172.2 491.6,171.3 492.8,170.5 494.0,169.7 495.1,168.8 496.3,168.0 497.4,167.2 498.6,166.4 499.8,165.6 500.9,164.8 502.1,164.0 503.3,163.2 504.4,162.5 505.6,161.7 506.7,160.9 507.9,160.2 509.1,159.5 510.2,158.7 511.4,158.0 512.5,157.3 513.7,156.6 514.9,155.9 516.0,155.3 517.2,154.6 518.4,153.9 519.5,153.3 520.7,152.6 521.8,152.0 523.0,151.4 524.2,150.8 525.3,150.2 526.5,149.6 527.6,149.0 528.8,148.5 530.0,147.9 531.1,147.4 532.3,146.8 533.4,146.3 534.6,145.8 535.8,145.3 536.9,144.8 538.1,144.3 539.3,143.8 540.4,143.4 541.6,142.9 542.7,142.5 543.9,142.0 545.1,141.6 546.2,141.2 547.4,140.7 548.5,140.3 549.7,139.9 550.9,139.5 552.0,139.2 553.2,138.8 554.3,138.4 555.5,138.1 556.7,137.7 557.8,137.3 559.0,137.0 560.2,136.7 561.3,136.3 562.5,136.0 563.6,135.7 564.8,135.4 566.0,135.1 567.1,134.8 568.3,134.5 569.4,134.2 570.6,133.9 571.8,133.7 572.9,133.4 574.1,133.1 575.2,132.9 576.4,132.6 577.6,132.4 578.7,132.1 579.9,131.9 581.1,131.7 582.2,131.4 583.4,131.2 584.5,131.0 585.7,130.8 586.9,130.6 588.0,130.4 589.2,130.2 590.3,130.0 591.5,129.8 592.7,129.6 593.8,129.4 595.0,129.2 596.2,129.0 597.3,128.8 598.5,128.7 599.6,128.5 600.8,128.3 602.0,128.2 603.1,128.0 604.3,127.9 605.4,127.7 606.6,127.5 607.8,127.4 608.9,127.3 610.1,127.1 611.2,127.0 612.4,126.8 613.6,126.7 614.7,126.6 615.9,126.4 617.1,126.3 618.2,126.2 619.4,126.1 620.5,125.9 621.7,125.8 622.9,125.7 624.0,125.6 625.2,125.5 626.3,125.4 627.5,125.2 628.7,125.1 629.8,125.0 631.0,124.9 632.1,124.8 633.3,124.7 634.5,124.6 635.6,124.5 636.8,124.4 638.0,124.4 639.1,124.3 640.3,124.2 641.4,124.1 642.6,124.0 643.8,123.9 644.9,123.8 646.1,123.7 647.2,123.7 648.4,123.6 649.6,123.5 650.7,123.4 651.9,123.4 653.0,123.3 654.2,123.2 655.4,123.1 656.5,123.1 657.7,123.0 658.9,122.9 660.0,122.9 661.2,122.8 662.3,122.7 663.5,122.7" stroke="#a2142f" stroke-width="1.3" fill="none" stroke-linejoin="round"/>
<path d="M373.2,199.5 374.4,199.6 375.5,199.6 376.7,199.6 377.8,199.6 379.0,199.7 380.2,199.7 381.3,199.7 382.5,199.7 383.7,199.8 384.8,199.8 386.0,199.8 387.1,199.8 388.3,199.9 389.5,199.9 390.6,199.9 391.8,199.9 392.9,200.0 394.1,200.0 395.3,200.0 396.4,200.1 397.6,200.1 398.7,200.1 399.9,200.1 401.1,200.2 402.2,200.2 403.4,200.2 404.6,200.2 405.7,200.2 406.9,200.2 408.0,200.2 409.2,200.2 410.4,200.2 411.5,200.2 412.7,200.3 413.8,200.3 415.0,200.3 416.2,200.3 417.3,200.3 418.5,200.3 419.6,200.3 420.8,200.4 422.0,200.4 423.1,200.4 424.3,200.4 425.5,200.5 426.6,200.5 427.8,200.5 428.9,200.5 430.1,200.5 431.3,200.5 432.4,200.4 433.6,200.4 434.7,200.3 435.9,200.3 437.1,200.2 438.2,200.2 439.4,200.1 440.5,200.1 441.7,200.0 442.9,199.9 444.0,199.8 445.2,199.8 446.4,199.7 447.5,199.5 448.7,199.4 449.8,199.3 451.0,199.1 452.2,199.0 453.3,198.8 454.5,198.6 455.6,198.4 456.8,198.2 458.0,198.0 459.1,197.7 460.3,197.5 461.5,197.2 462.6,196.9 463.8,196.6 464.9,196.3 466.1,195.9 467.3,195.6 468.4,195.2 469.6,194.8 470.7,194.4 471.9,194.0 473.1,193.6 474.2,193.1 475.4,192.6 476.5,192.2 477.7,191.7 478.9,191.2 480.0,190.7 481.2,190.1 482.4,189.6 483.5,189.1 484.7,188.5 485.8,187.9 487.0,187.4 488.2,186.8 489.3,186.2 490.5,185.6 491.6,185.0 492.8,184.4 494.0,183.8 495.1,183.2 496.3,182.6 497.4,182.0 498.6,181.3 499.8,180.7 500.9,180.1 502.1,179.5 503.3,178.9 504.4,178.2 505.6,177.6 506.7,177.0 507.9,176.4 509.1,175.8 510.2,175.2 511.4,174.6 512.5,174.0 513.7,173.4 514.9,172.8 516.0,172.2 517.2,171.6 518.4,171.0 519.5,170.5 520.7,169.9 521.8,169.3 523.0,168.8 524.2,168.3 525.3,167.7 526.5,167.2 527.6,166.7 528.8,166.1 530.0,165.6 531.1,165.1 532.3,164.6 533.4,164.1 534.6,163.7 535.8,163.2 536.9,162.7 538.1,162.3 539.3,161.8 540.4,161.4 541.6,160.9 542.7,160.5 543.9,160.1 545.1,159.6 546.2,159.2 547.4,158.8 548.5,158.4 549.7,158.0 550.9,157.6 552.0,157.3 553.2,156.9 554.3,156.5 555.5,156.2 556.7,155.8 557.8,155.5 559.0,155.1 560.2,154.8 561.3,154.5 562.5,154.2 563.6,153.8 564.8,153.5 566.0,153.2 567.1,152.9 568.3,152.6 569.4,152.4 570.6,152.1 571.8,151.8 572.9,151.5 574.1,151.3 575.2,151.0 576.4,150.7 577.6,150.5 578.7,150.3 579.9,150.0 581.1,149.8 582.2,149.5 583.4,149.3 584.5,149.1 585.7,148.9 586.9,148.6 588.0,148.4 589.2,148.2 590.3,148.0 591.5,147.8 592.7,147.6 593.8,147.4 595.0,147.2 596.2,147.1 597.3,146.9 598.5,146.7 599.6,146.5 600.8,146.4 602.0,146.2 603.1,146.0 604.3,145.9 605.4,145.7 606.6,145.5 607.8,145.4 608.9,145.2 610.1,145.1 611.2,144.9 612.4,144.8 613.6,144.7 614.7,144.5 615.9,144.4 617.1,144.3 618.2,144.1 619.4,144.0 620.5,143.9 621.7,143.8 622.9,143.6 624.0,143.5 625.2,143.4 626.3,143.3 627.5,143.2 628.7,143.1 629.8,143.0 631.0,142.8 632.1,142.7 633.3,142.6 634.5,142.5 635.6,142.4 636.8,142.3 638.0,142.2 639.1,142.2 640.3,142.1 641.4,142.0 642.6,141.9 643.8,141.8 644.9,141.7 646.1,141.6 647.2,141.5 648.4,141.5 649.6,141.4 650.7,141.3 651.9,141.2 653.0,141.1 654.2,141.1 655.4,141.0 656.5,140.9 657.7,140.8 658.9,140.8 660.0,140.7 661.2,140.6 662.3,140.6 663.5,140.5" stroke="#77ac30" stroke-width="1.3" fill="none" stroke-linejoin="round"/>
<path d="M402.23 202.40v-2.20M402.23 11.20v2.20M431.26 202.40v-2.20M431.26 11.20v2.20M460.29 202.40v-2.20M460.29 11.20v2.20M489.32 202.40v-2.20M489.32 11.20v2.20M518.35 202.40v-2.20M518.35 11.20v2.20M547.38 202.40v-2.20M547.38 11.20v2.20M576.41 202.40v-2.20M576.41 11.20v2.20M605.44 202.40v-2.20M605.44 11.20v2.20M634.47 202.40v-2.20M634.47 11.20v2.20M373.20 170.53h2.20M663.50 170.53h-2.20M373.20 138.67h2.20M663.50 138.67h-2.20M373.20 106.80h2.20M663.50 106.80h-2.20M373.20 74.93h2.20M663.50 74.93h-2.20M373.20 43.07h2.20M663.50 43.07h-2.20" stroke="#3a3a3a" stroke-width="0.8" fill="none"/>
<rect x="373.20" y="11.20" width="290.30" height="191.20" stroke="#3a3a3a" stroke-width="0.9" fill="none"/>
<g font-size="4.95" fill="#1a1a1a" stroke="#1a1a1a" stroke-width="0.1"><text x="373.20" y="209.50" text-anchor="middle">0</text><text x="402.23" y="209.50" text-anchor="middle">50</text><text x="431.26" y="209.50" text-anchor="middle">100</text><text x="460.29" y="209.50" text-anchor="middle">150</text><text x="489.32" y="209.50" text-anchor="middle">200</text><text x="518.35" y="209.50" text-anchor="middle">250</text><text x="547.38" y="209.50" text-anchor="middle">300</text><text x="576.41" y="209.50" text-anchor="middle">350</text><text x="605.44" y="209.50" text-anchor="middle">400</text><text x="634.47" y="209.50" text-anchor="middle">450</text><text x="663.50" y="209.50" text-anchor="middle">500</text><text x="370.60" y="204.60" text-anchor="end">0</text><text x="370.60" y="172.73" text-anchor="end">0.5</text><text x="370.60" y="140.87" text-anchor="end">1</text><text x="370.60" y="109.00" text-anchor="end">1.5</text><text x="370.60" y="77.13" text-anchor="end">2</text><text x="370.60" y="45.27" text-anchor="end">2.5</text><text x="370.60" y="13.40" text-anchor="end">3</text></g>
<text x="373.00" y="10.10" font-size="5.60" fill="#1a1a1a">×10<tspan dx="0.3" dy="-2.2" font-size="4.4">4</tspan></text>
<rect x="375.30" y="11.90" width="117.30" height="46.30" fill="#fff" stroke="#3a3a3a" stroke-width="0.8"/>
<path d="M378.20 17.30H394.70" stroke="#0000ff" stroke-width="1.3"/>
<text x="395.90" y="19.18" font-size="6.25" fill="#1a1a1a" stroke="#1a1a1a" stroke-width="0.07">Baseline values of </text>
<text x="448.80" y="19.48" font-family="Liberation Serif" font-style="italic" font-size="7.00" fill="#787878">β</text>
<text x="452.90" y="22.28" font-family="Liberation Serif" font-size="5.00" fill="#787878">1</text>
<text x="456.00" y="19.48" font-family="Liberation Serif" font-size="6.00" fill="#787878">,</text>
<text x="459.10" y="19.48" font-family="Liberation Serif" font-style="italic" font-size="7.00" fill="#787878">β</text>
<text x="463.20" y="22.28" font-family="Liberation Serif" font-size="5.00" fill="#787878">2</text>
<text x="466.30" y="19.48" font-family="Liberation Serif" font-size="6.00" fill="#787878">,</text>
<text x="468.90" y="19.48" font-family="Liberation Serif" font-style="italic" font-size="7.00" fill="#787878">β</text>
<text x="473.00" y="22.28" font-family="Liberation Serif" font-size="5.00" fill="#787878">3</text>
<path d="M378.20 28.00H394.70" stroke="#ff0000" stroke-width="1.3"/>
<text x="395.90" y="29.88" font-size="6.25" fill="#1a1a1a" stroke="#1a1a1a" stroke-width="0.07">with 10% increase in contact rates</text>
<path d="M378.20 36.60H394.70" stroke="#000000" stroke-width="1.3"/>
<text x="395.90" y="38.48" font-size="6.25" fill="#1a1a1a" stroke="#1a1a1a" stroke-width="0.07">with 20% increase in contact rates</text>
<path d="M378.20 45.00H394.70" stroke="#a2142f" stroke-width="1.3"/>
<text x="395.90" y="46.88" font-size="6.25" fill="#1a1a1a" stroke="#1a1a1a" stroke-width="0.07">with 40% increase in contact rates</text>
<path d="M378.20 53.70H394.70" stroke="#77ac30" stroke-width="1.3"/>
<text x="395.90" y="55.58" font-size="6.25" fill="#1a1a1a" stroke="#1a1a1a" stroke-width="0.07">with 50% increase in contact rates</text>
<text x="508.90" y="7.40" font-size="10.1" font-weight="bold" fill="#000" stroke="#000" stroke-width="0.22"><tspan dy="0.6">=</tspan><tspan dy="-0.6">0.80</tspan></text>
<text x="501.10" y="7.20" font-family="Liberation Serif" font-style="italic" font-size="11.8" fill="#111">ϑ</text>
<text x="518.75" y="222.10" text-anchor="middle" font-size="10.45" fill="#000">Time in Days</text>
<text transform="translate(354.90 106.75) rotate(-90)" text-anchor="middle" font-size="10.45" fill="#000">Infected humans,  I<tspan font-size="7.6" dy="4.8">h</tspan></text>
<text x="513.10" y="242.10" text-anchor="middle" font-family="Liberation Serif" font-size="15.2" letter-spacing="0.25" fill="#111">(b)</text>
<path d="M56.16 277.70V468.50M85.22 277.70V468.50M114.28 277.70V468.50M143.34 277.70V468.50M172.40 277.70V468.50M201.46 277.70V468.50M230.52 277.70V468.50M259.58 277.70V468.50M288.64 277.70V468.50M27.10 441.24H317.70M27.10 413.99H317.70M27.10 386.73H317.70M27.10 359.47H317.70M27.10 332.21H317.70M27.10 304.96H317.70" stroke="#e3e3e3" stroke-width="0.7" fill="none"/>
<path d="M27.1,467.7 28.3,467.7 29.4,467.7 30.6,467.7 31.7,467.6 32.9,467.4 34.1,467.3 35.2,467.2 36.4,467.1 37.6,467.0 38.7,467.0 39.9,466.9 41.0,466.9 42.2,466.8 43.4,466.8 44.5,466.8 45.7,466.8 46.9,466.8 48.0,466.7 49.2,466.7 50.3,466.7 51.5,466.7 52.7,466.7 53.8,466.6 55.0,466.6 56.2,466.6 57.3,466.6 58.5,466.5 59.6,466.5 60.8,466.4 62.0,466.4 63.1,466.3 64.3,466.3 65.5,466.2 66.6,466.1 67.8,466.0 68.9,465.9 70.1,465.8 71.3,465.7 72.4,465.6 73.6,465.3 74.8,465.1 75.9,464.8 77.1,464.5 78.2,464.2 79.4,463.8 80.6,463.4 81.7,462.9 82.9,462.4 84.1,461.9 85.2,461.2 86.4,460.6 87.5,459.8 88.7,458.9 89.9,457.9 91.0,456.9 92.2,455.8 93.4,454.6 94.5,453.3 95.7,452.1 96.8,450.7 98.0,449.3 99.2,447.9 100.3,446.4 101.5,444.9 102.7,443.4 103.8,441.8 105.0,440.2 106.1,438.6 107.3,436.9 108.5,435.2 109.6,433.5 110.8,431.8 112.0,430.0 113.1,428.2 114.3,426.5 115.4,424.7 116.6,422.9 117.8,421.1 118.9,419.3 120.1,417.5 121.3,415.7 122.4,413.9 123.6,412.1 124.7,410.3 125.9,408.5 127.1,406.7 128.2,404.9 129.4,403.2 130.6,401.4 131.7,399.7 132.9,397.9 134.0,396.2 135.2,394.5 136.4,392.8 137.5,391.1 138.7,389.5 139.9,387.8 141.0,386.2 142.2,384.6 143.3,383.0 144.5,381.4 145.7,379.8 146.8,378.3 148.0,376.7 149.2,375.2 150.3,373.7 151.5,372.3 152.6,370.8 153.8,369.4 155.0,367.9 156.1,366.5 157.3,365.2 158.5,363.8 159.6,362.4 160.8,361.1 161.9,359.8 163.1,358.5 164.3,357.2 165.4,356.0 166.6,354.7 167.8,353.5 168.9,352.3 170.1,351.1 171.2,349.9 172.4,348.8 173.6,347.6 174.7,346.5 175.9,345.4 177.0,344.3 178.2,343.2 179.4,342.1 180.5,341.1 181.7,340.1 182.9,339.0 184.0,338.0 185.2,337.0 186.3,336.1 187.5,335.1 188.7,334.2 189.8,333.2 191.0,332.3 192.2,331.4 193.3,330.5 194.5,329.6 195.6,328.7 196.8,327.9 198.0,327.0 199.1,326.2 200.3,325.4 201.5,324.6 202.6,323.8 203.8,323.0 204.9,322.2 206.1,321.5 207.3,320.7 208.4,320.0 209.6,319.2 210.8,318.5 211.9,317.8 213.1,317.1 214.2,316.4 215.4,315.7 216.6,315.1 217.7,314.4 218.9,313.7 220.1,313.1 221.2,312.5 222.4,311.8 223.5,311.2 224.7,310.6 225.9,310.0 227.0,309.4 228.2,308.8 229.4,308.2 230.5,307.7 231.7,307.1 232.8,306.6 234.0,306.0 235.2,305.5 236.3,304.9 237.5,304.4 238.7,303.9 239.8,303.4 241.0,302.9 242.1,302.4 243.3,301.9 244.5,301.4 245.6,300.9 246.8,300.5 248.0,300.0 249.1,299.5 250.3,299.1 251.4,298.6 252.6,298.2 253.8,297.8 254.9,297.3 256.1,296.9 257.3,296.5 258.4,296.1 259.6,295.7 260.7,295.2 261.9,294.8 263.1,294.5 264.2,294.1 265.4,293.7 266.6,293.3 267.7,292.9 268.9,292.6 270.0,292.2 271.2,291.8 272.4,291.5 273.5,291.1 274.7,290.8 275.9,290.4 277.0,290.1 278.2,289.8 279.3,289.4 280.5,289.1 281.7,288.8 282.8,288.4 284.0,288.1 285.2,287.8 286.3,287.5 287.5,287.2 288.6,286.9 289.8,286.6 291.0,286.3 292.1,286.0 293.3,285.7 294.5,285.4 295.6,285.2 296.8,284.9 297.9,284.6 299.1,284.3 300.3,284.1 301.4,283.8 302.6,283.5 303.8,283.3 304.9,283.0 306.1,282.8 307.2,282.5 308.4,282.3 309.6,282.0 310.7,281.8 311.9,281.5 313.1,281.3 314.2,281.1 315.4,280.8 316.5,280.6 317.7,280.4" stroke="#0000ff" stroke-width="1.3" fill="none" stroke-linejoin="round"/>
<path d="M27.1,467.7 28.3,467.7 29.4,467.7 30.6,467.7 31.7,467.6 32.9,467.4 34.1,467.3 35.2,467.2 36.4,467.1 37.6,467.0 38.7,467.0 39.9,466.9 41.0,466.9 42.2,466.8 43.4,466.8 44.5,466.8 45.7,466.8 46.9,466.7 48.0,466.7 49.2,466.7 50.3,466.7 51.5,466.7 52.7,466.7 53.8,466.6 55.0,466.6 56.2,466.6 57.3,466.6 58.5,466.5 59.6,466.5 60.8,466.5 62.0,466.4 63.1,466.4 64.3,466.4 65.5,466.3 66.6,466.3 67.8,466.2 68.9,466.1 70.1,466.1 71.3,466.0 72.4,465.9 73.6,465.8 74.8,465.7 75.9,465.5 77.1,465.3 78.2,465.1 79.4,464.9 80.6,464.7 81.7,464.4 82.9,464.1 84.1,463.7 85.2,463.3 86.4,462.9 87.5,462.4 88.7,461.9 89.9,461.2 91.0,460.5 92.2,459.8 93.4,459.0 94.5,458.1 95.7,457.3 96.8,456.3 98.0,455.4 99.2,454.4 100.3,453.3 101.5,452.2 102.7,451.1 103.8,449.9 105.0,448.7 106.1,447.4 107.3,446.2 108.5,444.9 109.6,443.5 110.8,442.2 112.0,440.8 113.1,439.4 114.3,437.9 115.4,436.5 116.6,435.0 117.8,433.5 118.9,432.0 120.1,430.5 121.3,429.0 122.4,427.5 123.6,426.0 124.7,424.4 125.9,422.9 127.1,421.4 128.2,419.8 129.4,418.3 130.6,416.8 131.7,415.3 132.9,413.7 134.0,412.2 135.2,410.7 136.4,409.2 137.5,407.7 138.7,406.3 139.9,404.8 141.0,403.3 142.2,401.9 143.3,400.5 144.5,399.0 145.7,397.6 146.8,396.2 148.0,394.9 149.2,393.5 150.3,392.1 151.5,390.8 152.6,389.5 153.8,388.2 155.0,386.9 156.1,385.6 157.3,384.4 158.5,383.1 159.6,381.9 160.8,380.7 161.9,379.5 163.1,378.3 164.3,377.2 165.4,376.0 166.6,374.9 167.8,373.8 168.9,372.7 170.1,371.6 171.2,370.5 172.4,369.5 173.6,368.4 174.7,367.4 175.9,366.4 177.0,365.4 178.2,364.4 179.4,363.5 180.5,362.5 181.7,361.6 182.9,360.7 184.0,359.8 185.2,358.9 186.3,358.0 187.5,357.1 188.7,356.3 189.8,355.5 191.0,354.6 192.2,353.8 193.3,353.0 194.5,352.2 195.6,351.5 196.8,350.7 198.0,350.0 199.1,349.2 200.3,348.5 201.5,347.8 202.6,347.1 203.8,346.4 204.9,345.7 206.1,345.0 207.3,344.3 208.4,343.7 209.6,343.1 210.8,342.4 211.9,341.8 213.1,341.2 214.2,340.6 215.4,340.0 216.6,339.4 217.7,338.8 218.9,338.3 220.1,337.7 221.2,337.2 222.4,336.6 223.5,336.1 224.7,335.6 225.9,335.0 227.0,334.5 228.2,334.0 229.4,333.5 230.5,333.0 231.7,332.6 232.8,332.1 234.0,331.6 235.2,331.2 236.3,330.7 237.5,330.3 238.7,329.8 239.8,329.4 241.0,329.0 242.1,328.6 243.3,328.2 244.5,327.7 245.6,327.3 246.8,327.0 248.0,326.6 249.1,326.2 250.3,325.8 251.4,325.4 252.6,325.1 253.8,324.7 254.9,324.3 256.1,324.0 257.3,323.6 258.4,323.3 259.6,323.0 260.7,322.6 261.9,322.3 263.1,322.0 264.2,321.7 265.4,321.4 266.6,321.0 267.7,320.7 268.9,320.4 270.0,320.1 271.2,319.9 272.4,319.6 273.5,319.3 274.7,319.0 275.9,318.7 277.0,318.4 278.2,318.2 279.3,317.9 280.5,317.6 281.7,317.4 282.8,317.1 284.0,316.9 285.2,316.6 286.3,316.4 287.5,316.1 288.6,315.9 289.8,315.7 291.0,315.4 292.1,315.2 293.3,315.0 294.5,314.8 295.6,314.5 296.8,314.3 297.9,314.1 299.1,313.9 300.3,313.7 301.4,313.5 302.6,313.3 303.8,313.1 304.9,312.9 306.1,312.7 307.2,312.5 308.4,312.3 309.6,312.1 310.7,311.9 311.9,311.7 313.1,311.5 314.2,311.4 315.4,311.2 316.5,311.0 317.7,310.8" stroke="#ff0000" stroke-width="1.3" fill="none" stroke-linejoin="round"/>
<path d="M27.1,467.7 28.3,467.7 29.4,467.7 30.6,467.7 31.7,467.6 32.9,467.4 34.1,467.3 35.2,467.2 36.4,467.1 37.6,467.0 38.7,467.0 39.9,466.9 41.0,466.9 42.2,466.9 43.4,466.8 44.5,466.8 45.7,466.8 46.9,466.8 48.0,466.8 49.2,466.8 50.3,466.8 51.5,466.8 52.7,466.7 53.8,466.7 55.0,466.7 56.2,466.7 57.3,466.7 58.5,466.7 59.6,466.6 60.8,466.6 62.0,466.6 63.1,466.6 64.3,466.5 65.5,466.5 66.6,466.5 67.8,466.4 68.9,466.4 70.1,466.3 71.3,466.3 72.4,466.2 73.6,466.2 74.8,466.1 75.9,466.0 77.1,466.0 78.2,465.9 79.4,465.8 80.6,465.7 81.7,465.6 82.9,465.4 84.1,465.3 85.2,465.1 86.4,464.8 87.5,464.6 88.7,464.2 89.9,463.9 91.0,463.5 92.2,463.0 93.4,462.5 94.5,462.0 95.7,461.4 96.8,460.8 98.0,460.2 99.2,459.5 100.3,458.8 101.5,458.1 102.7,457.3 103.8,456.4 105.0,455.6 106.1,454.7 107.3,453.8 108.5,452.8 109.6,451.8 110.8,450.8 112.0,449.7 113.1,448.7 114.3,447.6 115.4,446.4 116.6,445.3 117.8,444.1 118.9,443.0 120.1,441.8 121.3,440.6 122.4,439.3 123.6,438.1 124.7,436.9 125.9,435.6 127.1,434.4 128.2,433.1 129.4,431.8 130.6,430.6 131.7,429.3 132.9,428.0 134.0,426.8 135.2,425.5 136.4,424.2 137.5,423.0 138.7,421.7 139.9,420.5 141.0,419.2 142.2,418.0 143.3,416.7 144.5,415.5 145.7,414.3 146.8,413.1 148.0,411.9 149.2,410.7 150.3,409.5 151.5,408.4 152.6,407.2 153.8,406.1 155.0,405.0 156.1,403.8 157.3,402.7 158.5,401.6 159.6,400.6 160.8,399.5 161.9,398.5 163.1,397.4 164.3,396.4 165.4,395.4 166.6,394.4 167.8,393.4 168.9,392.4 170.1,391.5 171.2,390.5 172.4,389.6 173.6,388.6 174.7,387.7 175.9,386.8 177.0,386.0 178.2,385.1 179.4,384.2 180.5,383.4 181.7,382.6 182.9,381.7 184.0,380.9 185.2,380.1 186.3,379.3 187.5,378.6 188.7,377.8 189.8,377.1 191.0,376.3 192.2,375.6 193.3,374.9 194.5,374.2 195.6,373.5 196.8,372.8 198.0,372.1 199.1,371.5 200.3,370.8 201.5,370.2 202.6,369.5 203.8,368.9 204.9,368.3 206.1,367.7 207.3,367.1 208.4,366.5 209.6,366.0 210.8,365.4 211.9,364.8 213.1,364.3 214.2,363.7 215.4,363.2 216.6,362.7 217.7,362.2 218.9,361.7 220.1,361.2 221.2,360.7 222.4,360.2 223.5,359.7 224.7,359.2 225.9,358.8 227.0,358.3 228.2,357.9 229.4,357.4 230.5,357.0 231.7,356.6 232.8,356.2 234.0,355.7 235.2,355.3 236.3,354.9 237.5,354.5 238.7,354.1 239.8,353.8 241.0,353.4 242.1,353.0 243.3,352.6 244.5,352.3 245.6,351.9 246.8,351.6 248.0,351.2 249.1,350.9 250.3,350.5 251.4,350.2 252.6,349.9 253.8,349.6 254.9,349.2 256.1,348.9 257.3,348.6 258.4,348.3 259.6,348.0 260.7,347.7 261.9,347.4 263.1,347.1 264.2,346.9 265.4,346.6 266.6,346.3 267.7,346.0 268.9,345.8 270.0,345.5 271.2,345.2 272.4,345.0 273.5,344.7 274.7,344.5 275.9,344.2 277.0,344.0 278.2,343.8 279.3,343.5 280.5,343.3 281.7,343.1 282.8,342.8 284.0,342.6 285.2,342.4 286.3,342.2 287.5,342.0 288.6,341.8 289.8,341.6 291.0,341.3 292.1,341.1 293.3,340.9 294.5,340.7 295.6,340.6 296.8,340.4 297.9,340.2 299.1,340.0 300.3,339.8 301.4,339.6 302.6,339.4 303.8,339.3 304.9,339.1 306.1,338.9 307.2,338.7 308.4,338.6 309.6,338.4 310.7,338.2 311.9,338.1 313.1,337.9 314.2,337.8 315.4,337.6 316.5,337.5 317.7,337.3" stroke="#000000" stroke-width="1.3" fill="none" stroke-linejoin="round"/>
<path d="M27.1,467.7 28.3,467.7 29.4,467.7 30.6,467.7 31.7,467.6 32.9,467.4 34.1,467.3 35.2,467.2 36.4,467.1 37.6,467.0 38.7,467.0 39.9,466.9 41.0,466.9 42.2,466.9 43.4,466.8 44.5,466.8 45.7,466.8 46.9,466.8 48.0,466.8 49.2,466.8 50.3,466.8 51.5,466.8 52.7,466.8 53.8,466.8 55.0,466.8 56.2,466.8 57.3,466.7 58.5,466.7 59.6,466.7 60.8,466.7 62.0,466.7 63.1,466.7 64.3,466.7 65.5,466.7 66.6,466.7 67.8,466.6 68.9,466.6 70.1,466.6 71.3,466.6 72.4,466.5 73.6,466.5 74.8,466.5 75.9,466.4 77.1,466.4 78.2,466.4 79.4,466.3 80.6,466.3 81.7,466.2 82.9,466.2 84.1,466.2 85.2,466.2 86.4,466.1 87.5,466.1 88.7,466.1 89.9,466.0 91.0,466.0 92.2,465.9 93.4,465.8 94.5,465.7 95.7,465.6 96.8,465.4 98.0,465.3 99.2,465.2 100.3,465.0 101.5,464.8 102.7,464.6 103.8,464.4 105.0,464.1 106.1,463.9 107.3,463.6 108.5,463.3 109.6,463.0 110.8,462.6 112.0,462.3 113.1,461.9 114.3,461.5 115.4,461.1 116.6,460.6 117.8,460.2 118.9,459.7 120.1,459.2 121.3,458.6 122.4,458.1 123.6,457.5 124.7,456.9 125.9,456.3 127.1,455.7 128.2,455.1 129.4,454.4 130.6,453.7 131.7,453.1 132.9,452.4 134.0,451.6 135.2,450.9 136.4,450.2 137.5,449.4 138.7,448.7 139.9,447.9 141.0,447.1 142.2,446.4 143.3,445.6 144.5,444.8 145.7,444.0 146.8,443.2 148.0,442.4 149.2,441.6 150.3,440.8 151.5,439.9 152.6,439.1 153.8,438.3 155.0,437.5 156.1,436.7 157.3,435.9 158.5,435.1 159.6,434.3 160.8,433.5 161.9,432.7 163.1,431.9 164.3,431.1 165.4,430.3 166.6,429.5 167.8,428.8 168.9,428.0 170.1,427.3 171.2,426.5 172.4,425.8 173.6,425.0 174.7,424.3 175.9,423.6 177.0,422.8 178.2,422.1 179.4,421.4 180.5,420.8 181.7,420.1 182.9,419.4 184.0,418.7 185.2,418.1 186.3,417.4 187.5,416.8 188.7,416.1 189.8,415.5 191.0,414.9 192.2,414.3 193.3,413.7 194.5,413.1 195.6,412.5 196.8,411.9 198.0,411.4 199.1,410.8 200.3,410.3 201.5,409.7 202.6,409.2 203.8,408.7 204.9,408.2 206.1,407.6 207.3,407.1 208.4,406.7 209.6,406.2 210.8,405.7 211.9,405.2 213.1,404.8 214.2,404.3 215.4,403.8 216.6,403.4 217.7,403.0 218.9,402.5 220.1,402.1 221.2,401.7 222.4,401.3 223.5,400.9 224.7,400.5 225.9,400.1 227.0,399.7 228.2,399.4 229.4,399.0 230.5,398.6 231.7,398.3 232.8,397.9 234.0,397.6 235.2,397.2 236.3,396.9 237.5,396.6 238.7,396.3 239.8,395.9 241.0,395.6 242.1,395.3 243.3,395.0 244.5,394.7 245.6,394.4 246.8,394.1 248.0,393.9 249.1,393.6 250.3,393.3 251.4,393.0 252.6,392.8 253.8,392.5 254.9,392.3 256.1,392.0 257.3,391.8 258.4,391.5 259.6,391.3 260.7,391.0 261.9,390.8 263.1,390.6 264.2,390.3 265.4,390.1 266.6,389.9 267.7,389.7 268.9,389.5 270.0,389.3 271.2,389.1 272.4,388.9 273.5,388.7 274.7,388.5 275.9,388.3 277.0,388.1 278.2,387.9 279.3,387.7 280.5,387.6 281.7,387.4 282.8,387.2 284.0,387.0 285.2,386.9 286.3,386.7 287.5,386.5 288.6,386.4 289.8,386.2 291.0,386.1 292.1,385.9 293.3,385.8 294.5,385.6 295.6,385.5 296.8,385.3 297.9,385.2 299.1,385.0 300.3,384.9 301.4,384.8 302.6,384.6 303.8,384.5 304.9,384.4 306.1,384.2 307.2,384.1 308.4,384.0 309.6,383.9 310.7,383.7 311.9,383.6 313.1,383.5 314.2,383.4 315.4,383.3 316.5,383.2 317.7,383.0" stroke="#a2142f" stroke-width="1.3" fill="none" stroke-linejoin="round"/>
<path d="M27.1,467.7 28.3,467.7 29.4,467.7 30.6,467.7 31.7,467.5 32.9,467.4 34.1,467.3 35.2,467.2 36.4,467.2 37.6,467.1 38.7,467.1 39.9,467.0 41.0,467.0 42.2,467.0 43.4,467.0 44.5,466.9 45.7,466.9 46.9,466.9 48.0,466.9 49.2,466.9 50.3,466.9 51.5,466.9 52.7,466.9 53.8,466.9 55.0,466.9 56.2,466.9 57.3,466.9 58.5,466.9 59.6,466.9 60.8,466.9 62.0,466.9 63.1,466.9 64.3,466.9 65.5,466.9 66.6,466.9 67.8,466.9 68.9,466.9 70.1,466.9 71.3,466.9 72.4,466.9 73.6,466.9 74.8,466.9 75.9,466.9 77.1,466.9 78.2,466.9 79.4,466.9 80.6,466.9 81.7,466.9 82.9,466.8 84.1,466.8 85.2,466.8 86.4,466.8 87.5,466.8 88.7,466.8 89.9,466.7 91.0,466.7 92.2,466.7 93.4,466.6 94.5,466.6 95.7,466.5 96.8,466.5 98.0,466.4 99.2,466.4 100.3,466.3 101.5,466.2 102.7,466.2 103.8,466.1 105.0,466.0 106.1,465.9 107.3,465.8 108.5,465.7 109.6,465.5 110.8,465.4 112.0,465.3 113.1,465.1 114.3,464.9 115.4,464.8 116.6,464.6 117.8,464.4 118.9,464.2 120.1,464.0 121.3,463.7 122.4,463.5 123.6,463.2 124.7,462.9 125.9,462.6 127.1,462.3 128.2,462.0 129.4,461.7 130.6,461.3 131.7,461.0 132.9,460.6 134.0,460.2 135.2,459.8 136.4,459.4 137.5,459.0 138.7,458.6 139.9,458.1 141.0,457.6 142.2,457.2 143.3,456.7 144.5,456.2 145.7,455.7 146.8,455.1 148.0,454.6 149.2,454.1 150.3,453.5 151.5,452.9 152.6,452.4 153.8,451.8 155.0,451.2 156.1,450.6 157.3,450.0 158.5,449.4 159.6,448.8 160.8,448.2 161.9,447.6 163.1,446.9 164.3,446.3 165.4,445.7 166.6,445.0 167.8,444.4 168.9,443.8 170.1,443.1 171.2,442.5 172.4,441.9 173.6,441.2 174.7,440.6 175.9,440.0 177.0,439.4 178.2,438.7 179.4,438.1 180.5,437.5 181.7,436.9 182.9,436.3 184.0,435.6 185.2,435.0 186.3,434.4 187.5,433.8 188.7,433.3 189.8,432.7 191.0,432.1 192.2,431.5 193.3,431.0 194.5,430.4 195.6,429.8 196.8,429.3 198.0,428.8 199.1,428.2 200.3,427.7 201.5,427.2 202.6,426.7 203.8,426.2 204.9,425.7 206.1,425.2 207.3,424.7 208.4,424.2 209.6,423.7 210.8,423.3 211.9,422.8 213.1,422.4 214.2,421.9 215.4,421.5 216.6,421.0 217.7,420.6 218.9,420.2 220.1,419.8 221.2,419.4 222.4,419.0 223.5,418.6 224.7,418.2 225.9,417.8 227.0,417.5 228.2,417.1 229.4,416.8 230.5,416.4 231.7,416.1 232.8,415.7 234.0,415.4 235.2,415.1 236.3,414.7 237.5,414.4 238.7,414.1 239.8,413.8 241.0,413.5 242.1,413.2 243.3,412.9 244.5,412.7 245.6,412.4 246.8,412.1 248.0,411.8 249.1,411.6 250.3,411.3 251.4,411.1 252.6,410.8 253.8,410.6 254.9,410.4 256.1,410.1 257.3,409.9 258.4,409.7 259.6,409.4 260.7,409.2 261.9,409.0 263.1,408.8 264.2,408.6 265.4,408.4 266.6,408.2 267.7,408.0 268.9,407.8 270.0,407.6 271.2,407.5 272.4,407.3 273.5,407.1 274.7,406.9 275.9,406.8 277.0,406.6 278.2,406.4 279.3,406.3 280.5,406.1 281.7,406.0 282.8,405.8 284.0,405.7 285.2,405.5 286.3,405.4 287.5,405.2 288.6,405.1 289.8,405.0 291.0,404.8 292.1,404.7 293.3,404.6 294.5,404.4 295.6,404.3 296.8,404.2 297.9,404.1 299.1,404.0 300.3,403.9 301.4,403.7 302.6,403.6 303.8,403.5 304.9,403.4 306.1,403.3 307.2,403.2 308.4,403.1 309.6,403.0 310.7,402.9 311.9,402.8 313.1,402.7 314.2,402.6 315.4,402.5 316.5,402.4 317.7,402.4" stroke="#77ac30" stroke-width="1.3" fill="none" stroke-linejoin="round"/>
<path d="M56.16 468.50v-2.20M56.16 277.70v2.20M85.22 468.50v-2.20M85.22 277.70v2.20M114.28 468.50v-2.20M114.28 277.70v2.20M143.34 468.50v-2.20M143.34 277.70v2.20M172.40 468.50v-2.20M172.40 277.70v2.20M201.46 468.50v-2.20M201.46 277.70v2.20M230.52 468.50v-2.20M230.52 277.70v2.20M259.58 468.50v-2.20M259.58 277.70v2.20M288.64 468.50v-2.20M288.64 277.70v2.20M27.10 441.24h2.20M317.70 441.24h-2.20M27.10 413.99h2.20M317.70 413.99h-2.20M27.10 386.73h2.20M317.70 386.73h-2.20M27.10 359.47h2.20M317.70 359.47h-2.20M27.10 332.21h2.20M317.70 332.21h-2.20M27.10 304.96h2.20M317.70 304.96h-2.20" stroke="#3a3a3a" stroke-width="0.8" fill="none"/>
<rect x="27.10" y="277.70" width="290.60" height="190.80" stroke="#3a3a3a" stroke-width="0.9" fill="none"/>
<g font-size="4.95" fill="#1a1a1a" stroke="#1a1a1a" stroke-width="0.1"><text x="27.10" y="475.60" text-anchor="middle">0</text><text x="56.16" y="475.60" text-anchor="middle">50</text><text x="85.22" y="475.60" text-anchor="middle">100</text><text x="114.28" y="475.60" text-anchor="middle">150</text><text x="143.34" y="475.60" text-anchor="middle">200</text><text x="172.40" y="475.60" text-anchor="middle">250</text><text x="201.46" y="475.60" text-anchor="middle">300</text><text x="230.52" y="475.60" text-anchor="middle">350</text><text x="259.58" y="475.60" text-anchor="middle">400</text><text x="288.64" y="475.60" text-anchor="middle">450</text><text x="317.70" y="475.60" text-anchor="middle">500</text><text x="24.50" y="470.70" text-anchor="end">0</text><text x="24.50" y="443.44" text-anchor="end">0.5</text><text x="24.50" y="416.19" text-anchor="end">1</text><text x="24.50" y="388.93" text-anchor="end">1.5</text><text x="24.50" y="361.67" text-anchor="end">2</text><text x="24.50" y="334.41" text-anchor="end">2.5</text><text x="24.50" y="307.16" text-anchor="end">3</text><text x="24.50" y="279.90" text-anchor="end">3.5</text></g>
<text x="26.90" y="276.60" font-size="5.60" fill="#1a1a1a">×10<tspan dx="0.3" dy="-2.2" font-size="4.4">4</tspan></text>
<rect x="28.30" y="279.30" width="117.30" height="46.90" fill="#fff" stroke="#3a3a3a" stroke-width="0.8"/>
<path d="M30.80 285.70H47.80" stroke="#0000ff" stroke-width="1.3"/>
<text x="48.70" y="287.57" font-size="6.25" fill="#1a1a1a" stroke="#1a1a1a" stroke-width="0.07">Baseline values of </text>
<text x="101.60" y="287.88" font-family="Liberation Serif" font-style="italic" font-size="7.00" fill="#787878">β</text>
<text x="105.70" y="290.68" font-family="Liberation Serif" font-size="5.00" fill="#787878">1</text>
<text x="108.80" y="287.88" font-family="Liberation Serif" font-size="6.00" fill="#787878">,</text>
<text x="111.90" y="287.88" font-family="Liberation Serif" font-style="italic" font-size="7.00" fill="#787878">β</text>
<text x="116.00" y="290.68" font-family="Liberation Serif" font-size="5.00" fill="#787878">2</text>
<text x="119.10" y="287.88" font-family="Liberation Serif" font-size="6.00" fill="#787878">,</text>
<text x="121.70" y="287.88" font-family="Liberation Serif" font-style="italic" font-size="7.00" fill="#787878">β</text>
<text x="125.80" y="290.68" font-family="Liberation Serif" font-size="5.00" fill="#787878">3</text>
<path d="M30.80 296.00H47.80" stroke="#ff0000" stroke-width="1.3"/>
<text x="48.70" y="297.88" font-size="6.25" fill="#1a1a1a" stroke="#1a1a1a" stroke-width="0.07">with 10% increase in contact rates</text>
<path d="M30.80 304.80H47.80" stroke="#000000" stroke-width="1.3"/>
<text x="48.70" y="306.68" font-size="6.25" fill="#1a1a1a" stroke="#1a1a1a" stroke-width="0.07">with 20% increase in contact rates</text>
<path d="M30.80 313.10H47.80" stroke="#a2142f" stroke-width="1.3"/>
<text x="48.70" y="314.98" font-size="6.25" fill="#1a1a1a" stroke="#1a1a1a" stroke-width="0.07">with 40% increase in contact rates</text>
<path d="M30.80 321.30H47.80" stroke="#77ac30" stroke-width="1.3"/>
<text x="48.70" y="323.18" font-size="6.25" fill="#1a1a1a" stroke="#1a1a1a" stroke-width="0.07">with 50% increase in contact rates</text>
<text x="162.90" y="273.60" font-size="10.1" font-weight="bold" fill="#000" stroke="#000" stroke-width="0.22"><tspan dy="0.6">=</tspan><tspan dy="-0.6">0.80</tspan></text>
<text x="155.10" y="273.40" font-family="Liberation Serif" font-style="italic" font-size="11.8" fill="#111">ϑ</text>
<text x="172.80" y="488.60" text-anchor="middle" font-size="10.45" fill="#000">Time in Days</text>
<text transform="translate(9.10 373.05) rotate(-90)" text-anchor="middle" font-size="10.45" fill="#000">Clinically ill humans, C<tspan font-size="7.6" dy="4.8">h</tspan></text>
<text x="167.00" y="509.10" text-anchor="middle" font-family="Liberation Serif" font-size="15.2" letter-spacing="0.25" fill="#111">(c)</text>
<path d="M402.23 277.70V468.50M431.26 277.70V468.50M460.29 277.70V468.50M489.32 277.70V468.50M518.35 277.70V468.50M547.38 277.70V468.50M576.41 277.70V468.50M605.44 277.70V468.50M634.47 277.70V468.50M373.20 430.34H663.50M373.20 392.18H663.50M373.20 354.02H663.50M373.20 315.86H663.50" stroke="#e3e3e3" stroke-width="0.7" fill="none"/>
<path d="M373.2,467.7 374.4,467.7 375.5,467.7 376.7,467.7 377.8,467.7 379.0,467.7 380.2,467.7 381.3,467.7 382.5,467.6 383.7,467.5 384.8,467.3 386.0,467.2 387.1,467.0 388.3,466.7 389.5,466.5 390.6,466.1 391.8,465.8 392.9,465.3 394.1,464.8 395.3,464.2 396.4,463.4 397.6,462.6 398.7,461.6 399.9,460.5 401.1,459.2 402.2,457.7 403.4,456.0 404.6,454.0 405.7,451.8 406.9,449.3 408.0,446.4 409.2,443.2 410.4,439.7 411.5,435.7 412.7,431.3 413.8,426.4 415.0,421.2 416.2,415.4 417.3,409.2 418.5,402.5 419.6,395.4 420.8,388.0 422.0,380.1 423.1,372.0 424.3,363.7 425.5,355.3 426.6,346.8 427.8,338.4 428.9,330.4 430.1,322.7 431.3,315.7 432.4,309.5 433.6,304.1 434.7,299.6 435.9,296.1 437.1,293.5 438.2,291.9 439.4,291.1 440.5,291.2 441.7,292.1 442.9,293.7 444.0,295.9 445.2,298.7 446.4,302.0 447.5,305.7 448.7,309.8 449.8,314.1 451.0,318.6 452.2,323.2 453.3,327.9 454.5,332.6 455.6,337.2 456.8,341.8 458.0,346.2 459.1,350.4 460.3,354.5 461.5,358.4 462.6,362.1 463.8,365.5 464.9,368.7 466.1,371.6 467.3,374.3 468.4,376.9 469.6,379.2 470.7,381.5 471.9,383.7 473.1,385.9 474.2,388.0 475.4,390.1 476.5,392.2 477.7,394.4 478.9,396.6 480.0,398.8 481.2,400.9 482.4,403.1 483.5,405.1 484.7,407.1 485.8,409.0 487.0,410.9 488.2,412.6 489.3,414.2 490.5,415.7 491.6,417.2 492.8,418.5 494.0,419.7 495.1,420.8 496.3,421.9 497.4,422.9 498.6,423.8 499.8,424.7 500.9,425.5 502.1,426.3 503.3,427.1 504.4,427.7 505.6,428.4 506.7,429.0 507.9,429.6 509.1,430.2 510.2,430.7 511.4,431.2 512.5,431.7 513.7,432.2 514.9,432.6 516.0,433.1 517.2,433.5 518.4,434.0 519.5,434.4 520.7,434.8 521.8,435.2 523.0,435.6 524.2,436.0 525.3,436.3 526.5,436.7 527.6,437.1 528.8,437.4 530.0,437.8 531.1,438.1 532.3,438.5 533.4,438.8 534.6,439.1 535.8,439.5 536.9,439.8 538.1,440.1 539.3,440.4 540.4,440.7 541.6,441.0 542.7,441.3 543.9,441.6 545.1,441.8 546.2,442.1 547.4,442.4 548.5,442.7 549.7,442.9 550.9,443.2 552.0,443.4 553.2,443.7 554.3,443.9 555.5,444.2 556.7,444.4 557.8,444.6 559.0,444.8 560.2,445.1 561.3,445.3 562.5,445.5 563.6,445.7 564.8,445.9 566.0,446.1 567.1,446.3 568.3,446.5 569.4,446.7 570.6,446.9 571.8,447.1 572.9,447.3 574.1,447.5 575.2,447.7 576.4,447.8 577.6,448.0 578.7,448.2 579.9,448.4 581.1,448.5 582.2,448.7 583.4,448.8 584.5,449.0 585.7,449.2 586.9,449.3 588.0,449.5 589.2,449.6 590.3,449.8 591.5,449.9 592.7,450.0 593.8,450.2 595.0,450.3 596.2,450.4 597.3,450.6 598.5,450.7 599.6,450.8 600.8,451.0 602.0,451.1 603.1,451.2 604.3,451.3 605.4,451.4 606.6,451.6 607.8,451.7 608.9,451.8 610.1,451.9 611.2,452.0 612.4,452.1 613.6,452.2 614.7,452.3 615.9,452.4 617.1,452.5 618.2,452.6 619.4,452.7 620.5,452.8 621.7,452.9 622.9,453.0 624.0,453.1 625.2,453.2 626.3,453.3 627.5,453.4 628.7,453.5 629.8,453.5 631.0,453.6 632.1,453.7 633.3,453.8 634.5,453.9 635.6,453.9 636.8,454.0 638.0,454.1 639.1,454.2 640.3,454.2 641.4,454.3 642.6,454.4 643.8,454.5 644.9,454.5 646.1,454.6 647.2,454.7 648.4,454.7 649.6,454.8 650.7,454.8 651.9,454.9 653.0,455.0 654.2,455.0 655.4,455.1 656.5,455.1 657.7,455.2 658.9,455.3 660.0,455.3 661.2,455.4 662.3,455.4 663.5,455.5" stroke="#0000ff" stroke-width="1.3" fill="none" stroke-linejoin="round"/>
<path d="M373.2,467.7 374.4,467.7 375.5,467.7 376.7,467.7 377.8,467.7 379.0,467.7 380.2,467.7 381.3,467.7 382.5,467.7 383.7,467.7 384.8,467.7 386.0,467.6 387.1,467.5 388.3,467.3 389.5,467.1 390.6,466.9 391.8,466.6 392.9,466.3 394.1,465.9 395.3,465.5 396.4,465.0 397.6,464.3 398.7,463.6 399.9,462.7 401.1,461.7 402.2,460.6 403.4,459.3 404.6,457.9 405.7,456.4 406.9,454.7 408.0,452.8 409.2,450.7 410.4,448.4 411.5,445.9 412.7,443.1 413.8,440.1 415.0,436.7 416.2,433.0 417.3,429.0 418.5,424.5 419.6,419.6 420.8,414.3 422.0,408.6 423.1,402.5 424.3,396.0 425.5,389.2 426.6,382.1 427.8,374.8 428.9,367.4 430.1,360.0 431.3,352.7 432.4,345.7 433.6,339.0 434.7,332.8 435.9,327.0 437.1,321.7 438.2,317.0 439.4,312.8 440.5,309.3 441.7,306.4 442.9,304.3 444.0,302.9 445.2,302.2 446.4,302.2 447.5,302.8 448.7,304.1 449.8,305.9 451.0,308.2 452.2,311.0 453.3,314.1 454.5,317.6 455.6,321.3 456.8,325.2 458.0,329.3 459.1,333.4 460.3,337.6 461.5,341.7 462.6,345.8 463.8,349.7 464.9,353.6 466.1,357.2 467.3,360.8 468.4,364.1 469.6,367.4 470.7,370.5 471.9,373.5 473.1,376.3 474.2,379.1 475.4,381.7 476.5,384.3 477.7,386.7 478.9,389.0 480.0,391.3 481.2,393.4 482.4,395.5 483.5,397.4 484.7,399.3 485.8,401.1 487.0,402.9 488.2,404.5 489.3,406.1 490.5,407.7 491.6,409.2 492.8,410.6 494.0,411.9 495.1,413.2 496.3,414.5 497.4,415.7 498.6,416.9 499.8,418.0 500.9,419.1 502.1,420.1 503.3,421.1 504.4,422.1 505.6,423.0 506.7,423.9 507.9,424.8 509.1,425.6 510.2,426.4 511.4,427.2 512.5,428.0 513.7,428.7 514.9,429.4 516.0,430.1 517.2,430.7 518.4,431.3 519.5,432.0 520.7,432.5 521.8,433.1 523.0,433.7 524.2,434.2 525.3,434.7 526.5,435.2 527.6,435.7 528.8,436.2 530.0,436.6 531.1,437.0 532.3,437.5 533.4,437.9 534.6,438.3 535.8,438.7 536.9,439.0 538.1,439.4 539.3,439.8 540.4,440.1 541.6,440.4 542.7,440.8 543.9,441.1 545.1,441.4 546.2,441.7 547.4,441.9 548.5,442.2 549.7,442.5 550.9,442.8 552.0,443.0 553.2,443.3 554.3,443.5 555.5,443.7 556.7,444.0 557.8,444.2 559.0,444.4 560.2,444.6 561.3,444.8 562.5,445.0 563.6,445.2 564.8,445.4 566.0,445.6 567.1,445.8 568.3,445.9 569.4,446.1 570.6,446.3 571.8,446.4 572.9,446.6 574.1,446.8 575.2,446.9 576.4,447.1 577.6,447.2 578.7,447.4 579.9,447.5 581.1,447.6 582.2,447.8 583.4,447.9 584.5,448.0 585.7,448.2 586.9,448.3 588.0,448.4 589.2,448.5 590.3,448.7 591.5,448.8 592.7,448.9 593.8,449.0 595.0,449.1 596.2,449.2 597.3,449.4 598.5,449.5 599.6,449.6 600.8,449.7 602.0,449.8 603.1,449.9 604.3,450.0 605.4,450.1 606.6,450.2 607.8,450.3 608.9,450.4 610.1,450.5 611.2,450.6 612.4,450.7 613.6,450.8 614.7,450.9 615.9,451.0 617.1,451.1 618.2,451.2 619.4,451.3 620.5,451.4 621.7,451.5 622.9,451.6 624.0,451.8 625.2,451.9 626.3,452.0 627.5,452.1 628.7,452.2 629.8,452.3 631.0,452.4 632.1,452.5 633.3,452.6 634.5,452.7 635.6,452.8 636.8,452.9 638.0,453.0 639.1,453.1 640.3,453.3 641.4,453.4 642.6,453.5 643.8,453.6 644.9,453.7 646.1,453.8 647.2,453.9 648.4,454.1 649.6,454.2 650.7,454.3 651.9,454.4 653.0,454.6 654.2,454.7 655.4,454.8 656.5,454.9 657.7,455.1 658.9,455.2 660.0,455.3 661.2,455.4 662.3,455.6 663.5,455.7" stroke="#ff0000" stroke-width="1.3" fill="none" stroke-linejoin="round"/>
<path d="M373.2,467.7 374.4,467.7 375.5,467.7 376.7,467.7 377.8,467.7 379.0,467.7 380.2,467.7 381.3,467.7 382.5,467.6 383.7,467.5 384.8,467.4 386.0,467.3 387.1,467.2 388.3,467.1 389.5,466.9 390.6,466.8 391.8,466.6 392.9,466.4 394.1,466.1 395.3,465.8 396.4,465.5 397.6,465.1 398.7,464.7 399.9,464.2 401.1,463.7 402.2,463.1 403.4,462.4 404.6,461.6 405.7,460.7 406.9,459.7 408.0,458.6 409.2,457.3 410.4,455.9 411.5,454.3 412.7,452.6 413.8,450.6 415.0,448.4 416.2,446.0 417.3,443.3 418.5,440.4 419.6,437.2 420.8,433.8 422.0,430.0 423.1,425.9 424.3,421.6 425.5,416.9 426.6,412.0 427.8,406.8 428.9,401.3 430.1,395.7 431.3,389.8 432.4,383.9 433.6,377.8 434.7,371.8 435.9,365.8 437.1,360.0 438.2,354.4 439.4,349.1 440.5,344.0 441.7,339.0 442.9,334.1 444.0,329.3 445.2,324.8 446.4,320.7 447.5,317.3 448.7,314.7 449.8,313.0 451.0,312.2 452.2,312.1 453.3,312.7 454.5,313.9 455.6,315.5 456.8,317.4 458.0,319.6 459.1,321.9 460.3,324.4 461.5,327.1 462.6,329.9 463.8,332.8 464.9,335.8 466.1,338.8 467.3,341.9 468.4,345.0 469.6,348.2 470.7,351.4 471.9,354.5 473.1,357.7 474.2,360.8 475.4,363.8 476.5,366.9 477.7,369.8 478.9,372.7 480.0,375.5 481.2,378.3 482.4,381.0 483.5,383.6 484.7,386.1 485.8,388.5 487.0,390.8 488.2,393.0 489.3,395.1 490.5,397.2 491.6,399.1 492.8,401.0 494.0,402.8 495.1,404.5 496.3,406.1 497.4,407.7 498.6,409.2 499.8,410.6 500.9,412.0 502.1,413.3 503.3,414.6 504.4,415.8 505.6,417.0 506.7,418.1 507.9,419.2 509.1,420.2 510.2,421.3 511.4,422.2 512.5,423.2 513.7,424.0 514.9,424.9 516.0,425.7 517.2,426.5 518.4,427.3 519.5,428.1 520.7,428.8 521.8,429.5 523.0,430.1 524.2,430.8 525.3,431.4 526.5,432.0 527.6,432.6 528.8,433.2 530.0,433.7 531.1,434.2 532.3,434.8 533.4,435.2 534.6,435.7 535.8,436.2 536.9,436.6 538.1,437.1 539.3,437.5 540.4,437.9 541.6,438.3 542.7,438.7 543.9,439.1 545.1,439.4 546.2,439.8 547.4,440.1 548.5,440.5 549.7,440.8 550.9,441.1 552.0,441.4 553.2,441.7 554.3,442.0 555.5,442.3 556.7,442.6 557.8,442.8 559.0,443.1 560.2,443.4 561.3,443.6 562.5,443.9 563.6,444.1 564.8,444.3 566.0,444.5 567.1,444.8 568.3,445.0 569.4,445.2 570.6,445.4 571.8,445.6 572.9,445.8 574.1,446.0 575.2,446.2 576.4,446.4 577.6,446.5 578.7,446.7 579.9,446.9 581.1,447.1 582.2,447.2 583.4,447.4 584.5,447.5 585.7,447.7 586.9,447.8 588.0,448.0 589.2,448.1 590.3,448.3 591.5,448.4 592.7,448.6 593.8,448.7 595.0,448.8 596.2,449.0 597.3,449.1 598.5,449.2 599.6,449.3 600.8,449.5 602.0,449.6 603.1,449.7 604.3,449.8 605.4,449.9 606.6,450.1 607.8,450.2 608.9,450.3 610.1,450.4 611.2,450.5 612.4,450.6 613.6,450.7 614.7,450.8 615.9,450.9 617.1,451.0 618.2,451.1 619.4,451.2 620.5,451.4 621.7,451.5 622.9,451.6 624.0,451.7 625.2,451.8 626.3,451.9 627.5,452.0 628.7,452.1 629.8,452.2 631.0,452.3 632.1,452.4 633.3,452.5 634.5,452.6 635.6,452.6 636.8,452.7 638.0,452.8 639.1,452.9 640.3,453.0 641.4,453.1 642.6,453.2 643.8,453.3 644.9,453.4 646.1,453.5 647.2,453.6 648.4,453.7 649.6,453.8 650.7,453.9 651.9,454.0 653.0,454.1 654.2,454.2 655.4,454.4 656.5,454.5 657.7,454.6 658.9,454.7 660.0,454.8 661.2,454.9 662.3,455.0 663.5,455.1" stroke="#edb120" stroke-width="1.3" fill="none" stroke-linejoin="round"/>
<path d="M373.2,467.7 374.4,467.7 375.5,467.7 376.7,467.7 377.8,467.7 379.0,467.7 380.2,467.7 381.3,467.7 382.5,467.7 383.7,467.7 384.8,467.7 386.0,467.7 387.1,467.7 388.3,467.6 389.5,467.5 390.6,467.5 391.8,467.4 392.9,467.3 394.1,467.2 395.3,467.1 396.4,467.0 397.6,466.9 398.7,466.7 399.9,466.5 401.1,466.4 402.2,466.1 403.4,465.9 404.6,465.6 405.7,465.3 406.9,465.0 408.0,464.6 409.2,464.2 410.4,463.8 411.5,463.2 412.7,462.7 413.8,462.0 415.0,461.3 416.2,460.6 417.3,459.7 418.5,458.7 419.6,457.7 420.8,456.6 422.0,455.3 423.1,454.0 424.3,452.5 425.5,450.9 426.6,449.2 427.8,447.4 428.9,445.4 430.1,443.3 431.3,441.1 432.4,438.8 433.6,436.4 434.7,433.8 435.9,431.2 437.1,428.4 438.2,425.6 439.4,422.6 440.5,419.6 441.7,416.4 442.9,413.1 444.0,409.7 445.2,406.3 446.4,402.7 447.5,399.0 448.7,395.2 449.8,391.4 451.0,387.4 452.2,383.4 453.3,379.3 454.5,375.2 455.6,371.1 456.8,367.1 458.0,363.1 459.1,359.3 460.3,355.7 461.5,352.2 462.6,349.0 463.8,346.1 464.9,343.6 466.1,341.4 467.3,339.6 468.4,338.2 469.6,337.2 470.7,336.5 471.9,336.2 473.1,336.2 474.2,336.6 475.4,337.2 476.5,338.1 477.7,339.2 478.9,340.6 480.0,342.1 481.2,343.8 482.4,345.6 483.5,347.6 484.7,349.6 485.8,351.7 487.0,353.8 488.2,355.9 489.3,358.1 490.5,360.2 491.6,362.3 492.8,364.5 494.0,366.6 495.1,368.7 496.3,370.8 497.4,372.9 498.6,375.0 499.8,377.1 500.9,379.1 502.1,381.1 503.3,383.1 504.4,385.0 505.6,386.9 506.7,388.8 507.9,390.7 509.1,392.5 510.2,394.3 511.4,396.0 512.5,397.7 513.7,399.4 514.9,401.1 516.0,402.7 517.2,404.2 518.4,405.8 519.5,407.2 520.7,408.7 521.8,410.1 523.0,411.5 524.2,412.8 525.3,414.1 526.5,415.4 527.6,416.6 528.8,417.8 530.0,418.9 531.1,420.0 532.3,421.1 533.4,422.2 534.6,423.2 535.8,424.2 536.9,425.1 538.1,426.0 539.3,426.9 540.4,427.7 541.6,428.5 542.7,429.3 543.9,430.1 545.1,430.8 546.2,431.5 547.4,432.2 548.5,432.8 549.7,433.4 550.9,434.0 552.0,434.5 553.2,435.1 554.3,435.6 555.5,436.1 556.7,436.5 557.8,437.0 559.0,437.4 560.2,437.8 561.3,438.2 562.5,438.6 563.6,439.0 564.8,439.4 566.0,439.7 567.1,440.0 568.3,440.3 569.4,440.6 570.6,440.9 571.8,441.2 572.9,441.5 574.1,441.7 575.2,442.0 576.4,442.2 577.6,442.4 578.7,442.7 579.9,442.9 581.1,443.1 582.2,443.3 583.4,443.5 584.5,443.7 585.7,443.9 586.9,444.0 588.0,444.2 589.2,444.4 590.3,444.5 591.5,444.7 592.7,444.8 593.8,445.0 595.0,445.1 596.2,445.3 597.3,445.4 598.5,445.5 599.6,445.7 600.8,445.8 602.0,445.9 603.1,446.0 604.3,446.2 605.4,446.3 606.6,446.4 607.8,446.5 608.9,446.6 610.1,446.7 611.2,446.9 612.4,447.0 613.6,447.1 614.7,447.2 615.9,447.3 617.1,447.4 618.2,447.5 619.4,447.6 620.5,447.8 621.7,447.9 622.9,448.0 624.0,448.1 625.2,448.2 626.3,448.3 627.5,448.5 628.7,448.6 629.8,448.7 631.0,448.8 632.1,449.0 633.3,449.1 634.5,449.2 635.6,449.4 636.8,449.5 638.0,449.7 639.1,449.8 640.3,450.0 641.4,450.1 642.6,450.3 643.8,450.4 644.9,450.6 646.1,450.7 647.2,450.9 648.4,451.1 649.6,451.2 650.7,451.4 651.9,451.6 653.0,451.8 654.2,451.9 655.4,452.1 656.5,452.3 657.7,452.5 658.9,452.7 660.0,452.9 661.2,453.1 662.3,453.3 663.5,453.5" stroke="#000000" stroke-width="1.3" fill="none" stroke-linejoin="round"/>
<path d="M373.2,467.7 374.4,467.7 375.5,467.7 376.7,467.7 377.8,467.7 379.0,467.7 380.2,467.7 381.3,467.7 382.5,467.7 383.7,467.7 384.8,467.7 386.0,467.7 387.1,467.7 388.3,467.7 389.5,467.7 390.6,467.7 391.8,467.7 392.9,467.7 394.1,467.7 395.3,467.7 396.4,467.7 397.6,467.7 398.7,467.7 399.9,467.7 401.1,467.7 402.2,467.6 403.4,467.5 404.6,467.4 405.7,467.2 406.9,467.1 408.0,466.9 409.2,466.7 410.4,466.5 411.5,466.3 412.7,466.0 413.8,465.7 415.0,465.4 416.2,465.0 417.3,464.7 418.5,464.2 419.6,463.8 420.8,463.3 422.0,462.7 423.1,462.1 424.3,461.4 425.5,460.7 426.6,459.9 427.8,459.1 428.9,458.2 430.1,457.2 431.3,456.1 432.4,455.0 433.6,453.8 434.7,452.5 435.9,451.1 437.1,449.6 438.2,448.0 439.4,446.4 440.5,444.6 441.7,442.7 442.9,440.8 444.0,438.7 445.2,436.6 446.4,434.3 447.5,431.9 448.7,429.5 449.8,426.9 451.0,424.3 452.2,421.6 453.3,418.8 454.5,416.0 455.6,413.1 456.8,410.1 458.0,407.2 459.1,404.1 460.3,401.1 461.5,398.1 462.6,395.0 463.8,392.0 464.9,389.1 466.1,386.1 467.3,383.3 468.4,380.5 469.6,377.7 470.7,375.1 471.9,372.5 473.1,370.1 474.2,367.8 475.4,365.6 476.5,363.5 477.7,361.6 478.9,359.8 480.0,358.2 481.2,356.8 482.4,355.5 483.5,354.3 484.7,353.4 485.8,352.6 487.0,352.0 488.2,351.5 489.3,351.2 490.5,351.1 491.6,351.2 492.8,351.4 494.0,351.8 495.1,352.3 496.3,353.0 497.4,353.9 498.6,354.8 499.8,356.0 500.9,357.2 502.1,358.5 503.3,359.9 504.4,361.5 505.6,363.1 506.7,364.7 507.9,366.4 509.1,368.2 510.2,370.0 511.4,371.9 512.5,373.8 513.7,375.7 514.9,377.6 516.0,379.5 517.2,381.4 518.4,383.3 519.5,385.1 520.7,387.0 521.8,388.8 523.0,390.6 524.2,392.4 525.3,394.1 526.5,395.8 527.6,397.4 528.8,399.1 530.0,400.6 531.1,402.2 532.3,403.7 533.4,405.1 534.6,406.6 535.8,407.9 536.9,409.3 538.1,410.6 539.3,411.9 540.4,413.1 541.6,414.3 542.7,415.5 543.9,416.6 545.1,417.7 546.2,418.8 547.4,419.8 548.5,420.8 549.7,421.8 550.9,422.7 552.0,423.6 553.2,424.5 554.3,425.3 555.5,426.2 556.7,426.9 557.8,427.7 559.0,428.4 560.2,429.1 561.3,429.8 562.5,430.5 563.6,431.1 564.8,431.7 566.0,432.3 567.1,432.8 568.3,433.4 569.4,433.9 570.6,434.4 571.8,434.9 572.9,435.3 574.1,435.8 575.2,436.2 576.4,436.6 577.6,437.0 578.7,437.4 579.9,437.8 581.1,438.2 582.2,438.5 583.4,438.9 584.5,439.2 585.7,439.5 586.9,439.8 588.0,440.1 589.2,440.4 590.3,440.7 591.5,441.0 592.7,441.3 593.8,441.5 595.0,441.8 596.2,442.0 597.3,442.3 598.5,442.5 599.6,442.7 600.8,442.9 602.0,443.2 603.1,443.4 604.3,443.6 605.4,443.8 606.6,444.0 607.8,444.2 608.9,444.4 610.1,444.5 611.2,444.7 612.4,444.9 613.6,445.1 614.7,445.3 615.9,445.4 617.1,445.6 618.2,445.8 619.4,445.9 620.5,446.1 621.7,446.3 622.9,446.4 624.0,446.6 625.2,446.7 626.3,446.9 627.5,447.0 628.7,447.2 629.8,447.3 631.0,447.5 632.1,447.7 633.3,447.8 634.5,448.0 635.6,448.1 636.8,448.3 638.0,448.4 639.1,448.6 640.3,448.7 641.4,448.9 642.6,449.0 643.8,449.2 644.9,449.4 646.1,449.5 647.2,449.7 648.4,449.8 649.6,450.0 650.7,450.2 651.9,450.3 653.0,450.5 654.2,450.7 655.4,450.8 656.5,451.0 657.7,451.2 658.9,451.4 660.0,451.5 661.2,451.7 662.3,451.9 663.5,452.1" stroke="#77ac30" stroke-width="1.3" fill="none" stroke-linejoin="round"/>
<path d="M402.23 468.50v-2.20M402.23 277.70v2.20M431.26 468.50v-2.20M431.26 277.70v2.20M460.29 468.50v-2.20M460.29 277.70v2.20M489.32 468.50v-2.20M489.32 277.70v2.20M518.35 468.50v-2.20M518.35 277.70v2.20M547.38 468.50v-2.20M547.38 277.70v2.20M576.41 468.50v-2.20M576.41 277.70v2.20M605.44 468.50v-2.20M605.44 277.70v2.20M634.47 468.50v-2.20M634.47 277.70v2.20M373.20 430.34h2.20M663.50 430.34h-2.20M373.20 392.18h2.20M663.50 392.18h-2.20M373.20 354.02h2.20M663.50 354.02h-2.20M373.20 315.86h2.20M663.50 315.86h-2.20" stroke="#3a3a3a" stroke-width="0.8" fill="none"/>
<rect x="373.20" y="277.70" width="290.30" height="190.80" stroke="#3a3a3a" stroke-width="0.9" fill="none"/>
<g font-size="4.95" fill="#1a1a1a" stroke="#1a1a1a" stroke-width="0.1"><text x="373.20" y="475.60" text-anchor="middle">0</text><text x="402.23" y="475.60" text-anchor="middle">50</text><text x="431.26" y="475.60" text-anchor="middle">100</text><text x="460.29" y="475.60" text-anchor="middle">150</text><text x="489.32" y="475.60" text-anchor="middle">200</text><text x="518.35" y="475.60" text-anchor="middle">250</text><text x="547.38" y="475.60" text-anchor="middle">300</text><text x="576.41" y="475.60" text-anchor="middle">350</text><text x="605.44" y="475.60" text-anchor="middle">400</text><text x="634.47" y="475.60" text-anchor="middle">450</text><text x="663.50" y="475.60" text-anchor="middle">500</text><text x="370.60" y="470.70" text-anchor="end">0</text><text x="370.60" y="432.54" text-anchor="end">0.5</text><text x="370.60" y="394.38" text-anchor="end">1</text><text x="370.60" y="356.22" text-anchor="end">1.5</text><text x="370.60" y="318.06" text-anchor="end">2</text><text x="370.60" y="279.90" text-anchor="end">2.5</text></g>
<text x="373.00" y="276.60" font-size="5.60" fill="#1a1a1a">×10<tspan dx="0.3" dy="-2.2" font-size="4.4">4</tspan></text>
<rect x="547.70" y="282.30" width="110.90" height="44.80" fill="#fff" stroke="#3a3a3a" stroke-width="0.8"/>
<path d="M550.00 288.80H566.20" stroke="#0000ff" stroke-width="1.3"/>
<text x="567.80" y="290.57" font-size="5.90" fill="#1a1a1a" stroke="#1a1a1a" stroke-width="0.07">Baseline values of </text>
<text x="617.73" y="290.87" font-family="Liberation Serif" font-style="italic" font-size="6.61" fill="#787878">β</text>
<text x="621.61" y="293.50" font-family="Liberation Serif" font-size="4.72" fill="#787878">1</text>
<text x="624.53" y="290.87" font-family="Liberation Serif" font-size="5.66" fill="#787878">,</text>
<text x="627.45" y="290.87" font-family="Liberation Serif" font-style="italic" font-size="6.61" fill="#787878">β</text>
<text x="631.33" y="293.50" font-family="Liberation Serif" font-size="4.72" fill="#787878">2</text>
<text x="634.26" y="290.87" font-family="Liberation Serif" font-size="5.66" fill="#787878">,</text>
<text x="636.70" y="290.87" font-family="Liberation Serif" font-style="italic" font-size="6.61" fill="#787878">β</text>
<text x="640.58" y="293.50" font-family="Liberation Serif" font-size="4.72" fill="#787878">3</text>
<path d="M550.00 298.40H566.20" stroke="#ff0000" stroke-width="1.3"/>
<text x="567.80" y="300.17" font-size="5.90" fill="#1a1a1a" stroke="#1a1a1a" stroke-width="0.07">with 10% increase in contact rates</text>
<path d="M550.00 306.20H566.20" stroke="#edb120" stroke-width="1.3"/>
<text x="567.80" y="307.97" font-size="5.90" fill="#1a1a1a" stroke="#1a1a1a" stroke-width="0.07">with 20% increase in contact rates</text>
<path d="M550.00 314.70H566.20" stroke="#000000" stroke-width="1.3"/>
<text x="567.80" y="316.47" font-size="5.90" fill="#1a1a1a" stroke="#1a1a1a" stroke-width="0.07">with 40% increase in contact rates</text>
<path d="M550.00 322.50H566.20" stroke="#77ac30" stroke-width="1.3"/>
<text x="567.80" y="324.27" font-size="5.90" fill="#1a1a1a" stroke="#1a1a1a" stroke-width="0.07">with 50% increase in contact rates</text>
<text x="508.90" y="273.60" font-size="10.1" font-weight="bold" fill="#000" stroke="#000" stroke-width="0.22"><tspan dy="0.6">=</tspan><tspan dy="-0.6">0.80</tspan></text>
<text x="501.10" y="273.40" font-family="Liberation Serif" font-style="italic" font-size="11.8" fill="#111">ϑ</text>
<text x="518.75" y="488.60" text-anchor="middle" font-size="10.45" fill="#000">Time in Days</text>
<text transform="translate(354.90 372.85) rotate(-90)" text-anchor="middle" font-size="10.45" fill="#000">Exposed non-human class, E<tspan font-size="7.6" dy="4.8">r</tspan></text>
<text x="513.10" y="508.90" text-anchor="middle" font-family="Liberation Serif" font-size="15.2" letter-spacing="0.25" fill="#111">(d)</text>
<path d="M226.60 534.60V725.50M255.70 534.60V725.50M284.80 534.60V725.50M313.90 534.60V725.50M343.00 534.60V725.50M372.10 534.60V725.50M401.20 534.60V725.50M430.30 534.60V725.50M459.40 534.60V725.50M197.50 704.29H488.50M197.50 683.08H488.50M197.50 661.87H488.50M197.50 640.66H488.50M197.50 619.44H488.50M197.50 598.23H488.50M197.50 577.02H488.50M197.50 555.81H488.50" stroke="#e3e3e3" stroke-width="0.7" fill="none"/>
<path d="M197.5,724.7 198.7,724.7 199.8,724.7 201.0,724.7 202.2,724.7 203.3,724.7 204.5,724.7 205.6,724.7 206.8,724.7 208.0,724.7 209.1,724.7 210.3,724.7 211.5,724.7 212.6,724.7 213.8,724.7 215.0,724.7 216.1,724.7 217.3,724.7 218.5,724.7 219.6,724.7 220.8,724.6 221.9,724.5 223.1,724.3 224.3,724.1 225.4,723.9 226.6,723.6 227.8,723.3 228.9,722.9 230.1,722.4 231.3,721.9 232.4,721.3 233.6,720.5 234.7,719.7 235.9,718.7 237.1,717.6 238.2,716.3 239.4,714.9 240.6,713.2 241.7,711.3 242.9,709.2 244.1,706.9 245.2,704.4 246.4,701.6 247.6,698.6 248.7,695.4 249.9,692.0 251.0,688.4 252.2,684.5 253.4,680.5 254.5,676.3 255.7,672.0 256.9,667.6 258.0,663.2 259.2,658.6 260.4,654.1 261.5,649.5 262.7,645.0 263.8,640.5 265.0,636.1 266.2,631.8 267.3,627.6 268.5,623.5 269.7,619.5 270.8,615.7 272.0,612.0 273.2,608.5 274.3,605.1 275.5,601.9 276.7,598.9 277.8,595.9 279.0,593.2 280.1,590.6 281.3,588.1 282.5,585.7 283.6,583.5 284.8,581.4 286.0,579.4 287.1,577.5 288.3,575.7 289.5,574.0 290.6,572.4 291.8,570.9 292.9,569.5 294.1,568.2 295.3,567.0 296.4,565.8 297.6,564.7 298.8,563.6 299.9,562.6 301.1,561.7 302.3,560.8 303.4,560.0 304.6,559.2 305.8,558.5 306.9,557.8 308.1,557.1 309.2,556.5 310.4,555.9 311.6,555.3 312.7,554.8 313.9,554.3 315.1,553.9 316.2,553.4 317.4,553.0 318.6,552.6 319.7,552.2 320.9,551.9 322.0,551.6 323.2,551.2 324.4,550.9 325.5,550.7 326.7,550.4 327.9,550.1 329.0,549.9 330.2,549.7 331.4,549.4 332.5,549.2 333.7,549.0 334.9,548.9 336.0,548.7 337.2,548.5 338.3,548.3 339.5,548.2 340.7,548.0 341.8,547.9 343.0,547.8 344.2,547.7 345.3,547.5 346.5,547.4 347.7,547.3 348.8,547.2 350.0,547.1 351.1,547.0 352.3,546.9 353.5,546.8 354.6,546.7 355.8,546.6 357.0,546.5 358.1,546.5 359.3,546.4 360.5,546.3 361.6,546.2 362.8,546.1 364.0,546.1 365.1,546.0 366.3,545.9 367.4,545.8 368.6,545.7 369.8,545.7 370.9,545.6 372.1,545.5 373.3,545.4 374.4,545.3 375.6,545.3 376.8,545.2 377.9,545.1 379.1,545.0 380.2,544.9 381.4,544.8 382.6,544.7 383.7,544.7 384.9,544.6 386.1,544.5 387.2,544.4 388.4,544.3 389.6,544.2 390.7,544.1 391.9,544.0 393.1,543.9 394.2,543.9 395.4,543.8 396.5,543.7 397.7,543.6 398.9,543.5 400.0,543.4 401.2,543.3 402.4,543.3 403.5,543.2 404.7,543.1 405.9,543.0 407.0,542.9 408.2,542.8 409.3,542.8 410.5,542.7 411.7,542.6 412.8,542.5 414.0,542.5 415.2,542.4 416.3,542.3 417.5,542.2 418.7,542.2 419.8,542.1 421.0,542.0 422.2,542.0 423.3,541.9 424.5,541.8 425.6,541.8 426.8,541.7 428.0,541.7 429.1,541.6 430.3,541.5 431.5,541.5 432.6,541.4 433.8,541.4 435.0,541.3 436.1,541.3 437.3,541.2 438.4,541.2 439.6,541.1 440.8,541.1 441.9,541.0 443.1,541.0 444.3,541.0 445.4,540.9 446.6,540.9 447.8,540.9 448.9,540.8 450.1,540.8 451.3,540.8 452.4,540.7 453.6,540.7 454.7,540.7 455.9,540.7 457.1,540.6 458.2,540.6 459.4,540.6 460.6,540.6 461.7,540.6 462.9,540.5 464.1,540.5 465.2,540.5 466.4,540.5 467.5,540.5 468.7,540.5 469.9,540.5 471.0,540.5 472.2,540.5 473.4,540.5 474.5,540.5 475.7,540.5 476.9,540.5 478.0,540.5 479.2,540.6 480.4,540.6 481.5,540.6 482.7,540.6 483.8,540.6 485.0,540.7 486.2,540.7 487.3,540.7 488.5,540.7" stroke="#0000ff" stroke-width="1.3" fill="none" stroke-linejoin="round"/>
<path d="M197.5,724.7 198.7,724.7 199.8,724.7 201.0,724.7 202.2,724.7 203.3,724.7 204.5,724.7 205.6,724.7 206.8,724.7 208.0,724.7 209.1,724.7 210.3,724.7 211.5,724.7 212.6,724.7 213.8,724.7 215.0,724.7 216.1,724.7 217.3,724.7 218.5,724.7 219.6,724.7 220.8,724.7 221.9,724.6 223.1,724.4 224.3,724.2 225.4,724.0 226.6,723.7 227.8,723.4 228.9,723.0 230.1,722.6 231.3,722.2 232.4,721.6 233.6,721.0 234.7,720.3 235.9,719.5 237.1,718.6 238.2,717.6 239.4,716.5 240.6,715.2 241.7,713.8 242.9,712.3 244.1,710.6 245.2,708.7 246.4,706.6 247.6,704.4 248.7,702.0 249.9,699.4 251.0,696.6 252.2,693.7 253.4,690.5 254.5,687.2 255.7,683.8 256.9,680.2 258.0,676.5 259.2,672.7 260.4,668.8 261.5,664.9 262.7,660.8 263.8,656.8 265.0,652.7 266.2,648.6 267.3,644.6 268.5,640.6 269.7,636.6 270.8,632.7 272.0,628.8 273.2,625.1 274.3,621.5 275.5,617.9 276.7,614.5 277.8,611.2 279.0,608.0 280.1,605.0 281.3,602.0 282.5,599.2 283.6,596.5 284.8,593.9 286.0,591.5 287.1,589.1 288.3,586.9 289.5,584.7 290.6,582.7 291.8,580.8 292.9,579.0 294.1,577.2 295.3,575.6 296.4,574.0 297.6,572.6 298.8,571.2 299.9,569.9 301.1,568.6 302.3,567.4 303.4,566.3 304.6,565.2 305.8,564.2 306.9,563.3 308.1,562.4 309.2,561.5 310.4,560.7 311.6,559.9 312.7,559.2 313.9,558.5 315.1,557.9 316.2,557.2 317.4,556.7 318.6,556.1 319.7,555.6 320.9,555.1 322.0,554.6 323.2,554.1 324.4,553.7 325.5,553.3 326.7,552.9 327.9,552.5 329.0,552.2 330.2,551.8 331.4,551.5 332.5,551.2 333.7,550.9 334.9,550.7 336.0,550.4 337.2,550.1 338.3,549.9 339.5,549.7 340.7,549.4 341.8,549.2 343.0,549.0 344.2,548.8 345.3,548.7 346.5,548.5 347.7,548.3 348.8,548.2 350.0,548.0 351.1,547.9 352.3,547.7 353.5,547.6 354.6,547.4 355.8,547.3 357.0,547.2 358.1,547.1 359.3,546.9 360.5,546.8 361.6,546.7 362.8,546.6 364.0,546.5 365.1,546.4 366.3,546.3 367.4,546.2 368.6,546.1 369.8,546.0 370.9,545.9 372.1,545.8 373.3,545.7 374.4,545.6 375.6,545.5 376.8,545.4 377.9,545.4 379.1,545.3 380.2,545.2 381.4,545.1 382.6,545.0 383.7,544.9 384.9,544.8 386.1,544.7 387.2,544.7 388.4,544.6 389.6,544.5 390.7,544.4 391.9,544.3 393.1,544.3 394.2,544.2 395.4,544.1 396.5,544.0 397.7,543.9 398.9,543.9 400.0,543.8 401.2,543.7 402.4,543.7 403.5,543.6 404.7,543.5 405.9,543.4 407.0,543.4 408.2,543.3 409.3,543.2 410.5,543.2 411.7,543.1 412.8,543.1 414.0,543.0 415.2,542.9 416.3,542.9 417.5,542.8 418.7,542.8 419.8,542.7 421.0,542.6 422.2,542.6 423.3,542.5 424.5,542.5 425.6,542.4 426.8,542.4 428.0,542.3 429.1,542.3 430.3,542.2 431.5,542.2 432.6,542.1 433.8,542.1 435.0,542.0 436.1,542.0 437.3,541.9 438.4,541.9 439.6,541.8 440.8,541.8 441.9,541.8 443.1,541.7 444.3,541.7 445.4,541.6 446.6,541.6 447.8,541.6 448.9,541.5 450.1,541.5 451.3,541.5 452.4,541.4 453.6,541.4 454.7,541.4 455.9,541.3 457.1,541.3 458.2,541.3 459.4,541.2 460.6,541.2 461.7,541.2 462.9,541.2 464.1,541.1 465.2,541.1 466.4,541.1 467.5,541.1 468.7,541.1 469.9,541.0 471.0,541.0 472.2,541.0 473.4,541.0 474.5,541.0 475.7,540.9 476.9,540.9 478.0,540.9 479.2,540.9 480.4,540.9 481.5,540.9 482.7,540.9 483.8,540.8 485.0,540.8 486.2,540.8 487.3,540.8 488.5,540.8" stroke="#ff0000" stroke-width="1.3" fill="none" stroke-linejoin="round"/>
<path d="M197.5,724.7 198.7,724.7 199.8,724.7 201.0,724.7 202.2,724.7 203.3,724.7 204.5,724.7 205.6,724.7 206.8,724.7 208.0,724.7 209.1,724.7 210.3,724.7 211.5,724.7 212.6,724.7 213.8,724.7 215.0,724.7 216.1,724.7 217.3,724.7 218.5,724.7 219.6,724.7 220.8,724.6 221.9,724.5 223.1,724.4 224.3,724.2 225.4,724.1 226.6,723.9 227.8,723.7 228.9,723.4 230.1,723.1 231.3,722.8 232.4,722.5 233.6,722.1 234.7,721.6 235.9,721.1 237.1,720.6 238.2,720.0 239.4,719.3 240.6,718.5 241.7,717.7 242.9,716.7 244.1,715.7 245.2,714.6 246.4,713.3 247.6,712.0 248.7,710.5 249.9,708.8 251.0,707.1 252.2,705.2 253.4,703.1 254.5,700.9 255.7,698.6 256.9,696.1 258.0,693.4 259.2,690.6 260.4,687.7 261.5,684.6 262.7,681.3 263.8,678.0 265.0,674.5 266.2,670.9 267.3,667.2 268.5,663.5 269.7,659.7 270.8,655.8 272.0,651.9 273.2,648.0 274.3,644.1 275.5,640.2 276.7,636.4 277.8,632.6 279.0,628.9 280.1,625.2 281.3,621.6 282.5,618.2 283.6,614.8 284.8,611.5 286.0,608.4 287.1,605.4 288.3,602.4 289.5,599.7 290.6,597.0 291.8,594.4 292.9,592.0 294.1,589.7 295.3,587.5 296.4,585.4 297.6,583.4 298.8,581.5 299.9,579.7 301.1,578.0 302.3,576.3 303.4,574.8 304.6,573.3 305.8,572.0 306.9,570.6 308.1,569.4 309.2,568.2 310.4,567.1 311.6,566.1 312.7,565.1 313.9,564.1 315.1,563.2 316.2,562.4 317.4,561.6 318.6,560.8 319.7,560.1 320.9,559.4 322.0,558.7 323.2,558.1 324.4,557.5 325.5,557.0 326.7,556.4 327.9,555.9 329.0,555.5 330.2,555.0 331.4,554.6 332.5,554.2 333.7,553.8 334.9,553.4 336.0,553.0 337.2,552.7 338.3,552.4 339.5,552.1 340.7,551.8 341.8,551.5 343.0,551.2 344.2,551.0 345.3,550.7 346.5,550.5 347.7,550.3 348.8,550.0 350.0,549.8 351.1,549.6 352.3,549.4 353.5,549.2 354.6,549.1 355.8,548.9 357.0,548.7 358.1,548.6 359.3,548.4 360.5,548.3 361.6,548.1 362.8,548.0 364.0,547.8 365.1,547.7 366.3,547.6 367.4,547.4 368.6,547.3 369.8,547.2 370.9,547.0 372.1,546.9 373.3,546.8 374.4,546.7 375.6,546.6 376.8,546.5 377.9,546.3 379.1,546.2 380.2,546.1 381.4,546.0 382.6,545.9 383.7,545.8 384.9,545.7 386.1,545.6 387.2,545.5 388.4,545.4 389.6,545.3 390.7,545.2 391.9,545.1 393.1,545.0 394.2,544.9 395.4,544.8 396.5,544.7 397.7,544.6 398.9,544.5 400.0,544.4 401.2,544.4 402.4,544.3 403.5,544.2 404.7,544.1 405.9,544.0 407.0,543.9 408.2,543.9 409.3,543.8 410.5,543.7 411.7,543.6 412.8,543.6 414.0,543.5 415.2,543.4 416.3,543.4 417.5,543.3 418.7,543.2 419.8,543.2 421.0,543.1 422.2,543.0 423.3,543.0 424.5,542.9 425.6,542.9 426.8,542.8 428.0,542.7 429.1,542.7 430.3,542.6 431.5,542.6 432.6,542.5 433.8,542.5 435.0,542.4 436.1,542.4 437.3,542.3 438.4,542.3 439.6,542.2 440.8,542.2 441.9,542.2 443.1,542.1 444.3,542.1 445.4,542.0 446.6,542.0 447.8,542.0 448.9,541.9 450.1,541.9 451.3,541.8 452.4,541.8 453.6,541.8 454.7,541.8 455.9,541.7 457.1,541.7 458.2,541.7 459.4,541.6 460.6,541.6 461.7,541.6 462.9,541.6 464.1,541.5 465.2,541.5 466.4,541.5 467.5,541.5 468.7,541.5 469.9,541.4 471.0,541.4 472.2,541.4 473.4,541.4 474.5,541.4 475.7,541.4 476.9,541.4 478.0,541.3 479.2,541.3 480.4,541.3 481.5,541.3 482.7,541.3 483.8,541.3 485.0,541.3 486.2,541.3 487.3,541.3 488.5,541.3" stroke="#edb120" stroke-width="1.3" fill="none" stroke-linejoin="round"/>
<path d="M197.5,724.7 198.7,724.7 199.8,724.7 201.0,724.7 202.2,724.7 203.3,724.7 204.5,724.7 205.6,724.7 206.8,724.7 208.0,724.7 209.1,724.7 210.3,724.7 211.5,724.7 212.6,724.7 213.8,724.7 215.0,724.7 216.1,724.7 217.3,724.7 218.5,724.7 219.6,724.7 220.8,724.7 221.9,724.6 223.1,724.6 224.3,724.5 225.4,724.4 226.6,724.3 227.8,724.3 228.9,724.2 230.1,724.0 231.3,723.9 232.4,723.8 233.6,723.6 234.7,723.5 235.9,723.3 237.1,723.1 238.2,722.9 239.4,722.6 240.6,722.4 241.7,722.1 242.9,721.8 244.1,721.4 245.2,721.1 246.4,720.7 247.6,720.2 248.7,719.8 249.9,719.2 251.0,718.7 252.2,718.1 253.4,717.4 254.5,716.7 255.7,715.9 256.9,715.1 258.0,714.2 259.2,713.2 260.4,712.2 261.5,711.0 262.7,709.8 263.8,708.5 265.0,707.2 266.2,705.7 267.3,704.1 268.5,702.4 269.7,700.6 270.8,698.8 272.0,696.8 273.2,694.7 274.3,692.5 275.5,690.2 276.7,687.8 277.8,685.3 279.0,682.7 280.1,680.0 281.3,677.2 282.5,674.4 283.6,671.4 284.8,668.5 286.0,665.4 287.1,662.3 288.3,659.2 289.5,656.1 290.6,652.9 291.8,649.7 292.9,646.5 294.1,643.3 295.3,640.2 296.4,637.0 297.6,633.8 298.8,630.7 299.9,627.6 301.1,624.5 302.3,621.5 303.4,618.5 304.6,615.6 305.8,612.7 306.9,609.9 308.1,607.1 309.2,604.4 310.4,601.7 311.6,599.2 312.7,596.7 313.9,594.2 315.1,591.8 316.2,589.5 317.4,587.3 318.6,585.2 319.7,583.2 320.9,581.2 322.0,579.4 323.2,577.7 324.4,576.1 325.5,574.6 326.7,573.2 327.9,571.9 329.0,570.6 330.2,569.5 331.4,568.4 332.5,567.3 333.7,566.4 334.9,565.5 336.0,564.6 337.2,563.8 338.3,563.1 339.5,562.3 340.7,561.7 341.8,561.0 343.0,560.4 344.2,559.9 345.3,559.3 346.5,558.8 347.7,558.3 348.8,557.9 350.0,557.4 351.1,557.0 352.3,556.6 353.5,556.2 354.6,555.9 355.8,555.5 357.0,555.2 358.1,554.9 359.3,554.6 360.5,554.3 361.6,554.0 362.8,553.7 364.0,553.5 365.1,553.2 366.3,553.0 367.4,552.7 368.6,552.5 369.8,552.3 370.9,552.1 372.1,551.8 373.3,551.6 374.4,551.4 375.6,551.2 376.8,551.0 377.9,550.8 379.1,550.6 380.2,550.4 381.4,550.2 382.6,550.0 383.7,549.8 384.9,549.7 386.1,549.5 387.2,549.3 388.4,549.1 389.6,549.0 390.7,548.8 391.9,548.6 393.1,548.5 394.2,548.3 395.4,548.1 396.5,548.0 397.7,547.8 398.9,547.7 400.0,547.5 401.2,547.4 402.4,547.3 403.5,547.1 404.7,547.0 405.9,546.9 407.0,546.7 408.2,546.6 409.3,546.5 410.5,546.3 411.7,546.2 412.8,546.1 414.0,546.0 415.2,545.9 416.3,545.8 417.5,545.6 418.7,545.5 419.8,545.4 421.0,545.3 422.2,545.2 423.3,545.1 424.5,545.0 425.6,544.9 426.8,544.8 428.0,544.7 429.1,544.6 430.3,544.6 431.5,544.5 432.6,544.4 433.8,544.3 435.0,544.2 436.1,544.1 437.3,544.1 438.4,544.0 439.6,543.9 440.8,543.8 441.9,543.7 443.1,543.7 444.3,543.6 445.4,543.5 446.6,543.5 447.8,543.4 448.9,543.3 450.1,543.3 451.3,543.2 452.4,543.2 453.6,543.1 454.7,543.0 455.9,543.0 457.1,542.9 458.2,542.9 459.4,542.8 460.6,542.8 461.7,542.7 462.9,542.7 464.1,542.6 465.2,542.6 466.4,542.5 467.5,542.5 468.7,542.4 469.9,542.4 471.0,542.3 472.2,542.3 473.4,542.3 474.5,542.2 475.7,542.2 476.9,542.2 478.0,542.1 479.2,542.1 480.4,542.0 481.5,542.0 482.7,542.0 483.8,542.0 485.0,541.9 486.2,541.9 487.3,541.9 488.5,541.8" stroke="#000000" stroke-width="1.3" fill="none" stroke-linejoin="round"/>
<path d="M197.5,724.7 198.7,724.7 199.8,724.7 201.0,724.7 202.2,724.7 203.3,724.7 204.5,724.7 205.6,724.7 206.8,724.7 208.0,724.7 209.1,724.7 210.3,724.7 211.5,724.7 212.6,724.7 213.8,724.7 215.0,724.7 216.1,724.7 217.3,724.7 218.5,724.7 219.6,724.7 220.8,724.7 221.9,724.7 223.1,724.7 224.3,724.7 225.4,724.7 226.6,724.7 227.8,724.6 228.9,724.5 230.1,724.4 231.3,724.3 232.4,724.3 233.6,724.1 234.7,724.0 235.9,723.9 237.1,723.8 238.2,723.7 239.4,723.5 240.6,723.4 241.7,723.2 242.9,723.0 244.1,722.8 245.2,722.6 246.4,722.4 247.6,722.1 248.7,721.9 249.9,721.6 251.0,721.3 252.2,721.0 253.4,720.6 254.5,720.2 255.7,719.8 256.9,719.4 258.0,719.0 259.2,718.5 260.4,718.0 261.5,717.4 262.7,716.8 263.8,716.2 265.0,715.5 266.2,714.8 267.3,714.0 268.5,713.2 269.7,712.3 270.8,711.4 272.0,710.4 273.2,709.4 274.3,708.3 275.5,707.2 276.7,705.9 277.8,704.7 279.0,703.3 280.1,701.9 281.3,700.4 282.5,698.8 283.6,697.1 284.8,695.4 286.0,693.6 287.1,691.7 288.3,689.7 289.5,687.7 290.6,685.5 291.8,683.3 292.9,681.1 294.1,678.7 295.3,676.3 296.4,673.8 297.6,671.2 298.8,668.6 299.9,665.9 301.1,663.2 302.3,660.4 303.4,657.6 304.6,654.8 305.8,651.9 306.9,649.0 308.1,646.1 309.2,643.2 310.4,640.3 311.6,637.4 312.7,634.5 313.9,631.6 315.1,628.7 316.2,625.9 317.4,623.1 318.6,620.3 319.7,617.6 320.9,615.0 322.0,612.4 323.2,609.8 324.4,607.3 325.5,604.9 326.7,602.5 327.9,600.2 329.0,597.9 330.2,595.8 331.4,593.7 332.5,591.7 333.7,589.7 334.9,587.8 336.0,586.0 337.2,584.3 338.3,582.6 339.5,581.1 340.7,579.6 341.8,578.1 343.0,576.8 344.2,575.5 345.3,574.3 346.5,573.1 347.7,572.0 348.8,571.0 350.0,570.0 351.1,569.0 352.3,568.1 353.5,567.3 354.6,566.5 355.8,565.7 357.0,565.0 358.1,564.3 359.3,563.6 360.5,563.0 361.6,562.4 362.8,561.8 364.0,561.2 365.1,560.7 366.3,560.2 367.4,559.7 368.6,559.2 369.8,558.7 370.9,558.3 372.1,557.9 373.3,557.5 374.4,557.1 375.6,556.7 376.8,556.3 377.9,555.9 379.1,555.6 380.2,555.2 381.4,554.9 382.6,554.6 383.7,554.3 384.9,554.0 386.1,553.7 387.2,553.4 388.4,553.1 389.6,552.9 390.7,552.6 391.9,552.4 393.1,552.1 394.2,551.9 395.4,551.7 396.5,551.4 397.7,551.2 398.9,551.0 400.0,550.8 401.2,550.6 402.4,550.4 403.5,550.2 404.7,550.0 405.9,549.9 407.0,549.7 408.2,549.5 409.3,549.3 410.5,549.2 411.7,549.0 412.8,548.9 414.0,548.7 415.2,548.6 416.3,548.4 417.5,548.3 418.7,548.2 419.8,548.0 421.0,547.9 422.2,547.8 423.3,547.6 424.5,547.5 425.6,547.4 426.8,547.3 428.0,547.2 429.1,547.0 430.3,546.9 431.5,546.8 432.6,546.7 433.8,546.6 435.0,546.5 436.1,546.4 437.3,546.3 438.4,546.2 439.6,546.1 440.8,546.0 441.9,545.9 443.1,545.8 444.3,545.7 445.4,545.7 446.6,545.6 447.8,545.5 448.9,545.4 450.1,545.3 451.3,545.2 452.4,545.1 453.6,545.1 454.7,545.0 455.9,544.9 457.1,544.8 458.2,544.7 459.4,544.6 460.6,544.6 461.7,544.5 462.9,544.4 464.1,544.3 465.2,544.3 466.4,544.2 467.5,544.1 468.7,544.0 469.9,544.0 471.0,543.9 472.2,543.8 473.4,543.7 474.5,543.7 475.7,543.6 476.9,543.5 478.0,543.4 479.2,543.4 480.4,543.3 481.5,543.2 482.7,543.2 483.8,543.1 485.0,543.0 486.2,542.9 487.3,542.9 488.5,542.8" stroke="#77ac30" stroke-width="1.3" fill="none" stroke-linejoin="round"/>
<path d="M226.60 725.50v-2.20M226.60 534.60v2.20M255.70 725.50v-2.20M255.70 534.60v2.20M284.80 725.50v-2.20M284.80 534.60v2.20M313.90 725.50v-2.20M313.90 534.60v2.20M343.00 725.50v-2.20M343.00 534.60v2.20M372.10 725.50v-2.20M372.10 534.60v2.20M401.20 725.50v-2.20M401.20 534.60v2.20M430.30 725.50v-2.20M430.30 534.60v2.20M459.40 725.50v-2.20M459.40 534.60v2.20M197.50 704.29h2.20M488.50 704.29h-2.20M197.50 683.08h2.20M488.50 683.08h-2.20M197.50 661.87h2.20M488.50 661.87h-2.20M197.50 640.66h2.20M488.50 640.66h-2.20M197.50 619.44h2.20M488.50 619.44h-2.20M197.50 598.23h2.20M488.50 598.23h-2.20M197.50 577.02h2.20M488.50 577.02h-2.20M197.50 555.81h2.20M488.50 555.81h-2.20" stroke="#3a3a3a" stroke-width="0.8" fill="none"/>
<rect x="197.50" y="534.60" width="291.00" height="190.90" stroke="#3a3a3a" stroke-width="0.9" fill="none"/>
<g font-size="4.95" fill="#1a1a1a" stroke="#1a1a1a" stroke-width="0.1"><text x="197.50" y="732.60" text-anchor="middle">0</text><text x="226.60" y="732.60" text-anchor="middle">50</text><text x="255.70" y="732.60" text-anchor="middle">100</text><text x="284.80" y="732.60" text-anchor="middle">150</text><text x="313.90" y="732.60" text-anchor="middle">200</text><text x="343.00" y="732.60" text-anchor="middle">250</text><text x="372.10" y="732.60" text-anchor="middle">300</text><text x="401.20" y="732.60" text-anchor="middle">350</text><text x="430.30" y="732.60" text-anchor="middle">400</text><text x="459.40" y="732.60" text-anchor="middle">450</text><text x="488.50" y="732.60" text-anchor="middle">500</text><text x="194.90" y="727.70" text-anchor="end">0</text><text x="194.90" y="706.49" text-anchor="end">1</text><text x="194.90" y="685.28" text-anchor="end">2</text><text x="194.90" y="664.07" text-anchor="end">3</text><text x="194.90" y="642.86" text-anchor="end">4</text><text x="194.90" y="621.64" text-anchor="end">5</text><text x="194.90" y="600.43" text-anchor="end">6</text><text x="194.90" y="579.22" text-anchor="end">7</text><text x="194.90" y="558.01" text-anchor="end">8</text><text x="194.90" y="536.80" text-anchor="end">9</text></g>
<text x="197.30" y="533.50" font-size="5.60" fill="#1a1a1a">×10<tspan dx="0.3" dy="-2.2" font-size="4.4">4</tspan></text>
<rect x="362.30" y="667.40" width="117.30" height="46.70" fill="#fff" stroke="#3a3a3a" stroke-width="0.8"/>
<path d="M365.30 673.60H381.40" stroke="#0000ff" stroke-width="1.3"/>
<text x="383.00" y="675.48" font-size="6.25" fill="#1a1a1a" stroke="#1a1a1a" stroke-width="0.07">Baseline values of </text>
<text x="435.90" y="675.77" font-family="Liberation Serif" font-style="italic" font-size="7.00" fill="#787878">β</text>
<text x="440.00" y="678.58" font-family="Liberation Serif" font-size="5.00" fill="#787878">1</text>
<text x="443.10" y="675.77" font-family="Liberation Serif" font-size="6.00" fill="#787878">,</text>
<text x="446.20" y="675.77" font-family="Liberation Serif" font-style="italic" font-size="7.00" fill="#787878">β</text>
<text x="450.30" y="678.58" font-family="Liberation Serif" font-size="5.00" fill="#787878">2</text>
<text x="453.40" y="675.77" font-family="Liberation Serif" font-size="6.00" fill="#787878">,</text>
<text x="456.00" y="675.77" font-family="Liberation Serif" font-style="italic" font-size="7.00" fill="#787878">β</text>
<text x="460.10" y="678.58" font-family="Liberation Serif" font-size="5.00" fill="#787878">3</text>
<path d="M365.30 684.30H381.40" stroke="#ff0000" stroke-width="1.3"/>
<text x="383.00" y="686.17" font-size="6.25" fill="#1a1a1a" stroke="#1a1a1a" stroke-width="0.07">with 10% increase in contact rates</text>
<path d="M365.30 692.10H381.40" stroke="#edb120" stroke-width="1.3"/>
<text x="383.00" y="693.98" font-size="6.25" fill="#1a1a1a" stroke="#1a1a1a" stroke-width="0.07">with 20% increase in contact rates</text>
<path d="M365.30 700.90H381.40" stroke="#000000" stroke-width="1.3"/>
<text x="383.00" y="702.77" font-size="6.25" fill="#1a1a1a" stroke="#1a1a1a" stroke-width="0.07">with 40% increase in contact rates</text>
<path d="M365.30 709.20H381.40" stroke="#77ac30" stroke-width="1.3"/>
<text x="383.00" y="711.08" font-size="6.25" fill="#1a1a1a" stroke="#1a1a1a" stroke-width="0.07">with 50% increase in contact rates</text>
<text x="333.90" y="530.30" font-size="10.1" font-weight="bold" fill="#000" stroke="#000" stroke-width="0.22"><tspan dy="0.6">=</tspan><tspan dy="-0.6">0.80</tspan></text>
<text x="326.10" y="530.10" font-family="Liberation Serif" font-style="italic" font-size="11.8" fill="#111">ϑ</text>
<text x="343.40" y="745.80" text-anchor="middle" font-size="10.45" fill="#000">Time in Days</text>
<text transform="translate(183.90 629.60) rotate(-90)" text-anchor="middle" font-size="10.45" fill="#000">Infected non-human class, I<tspan font-size="7.6" dy="4.8">r</tspan></text>
<text x="342.10" y="764.80" text-anchor="middle" font-family="Liberation Serif" font-size="15.2" letter-spacing="0.25" fill="#111">(e)</text>
</svg></body></html>
